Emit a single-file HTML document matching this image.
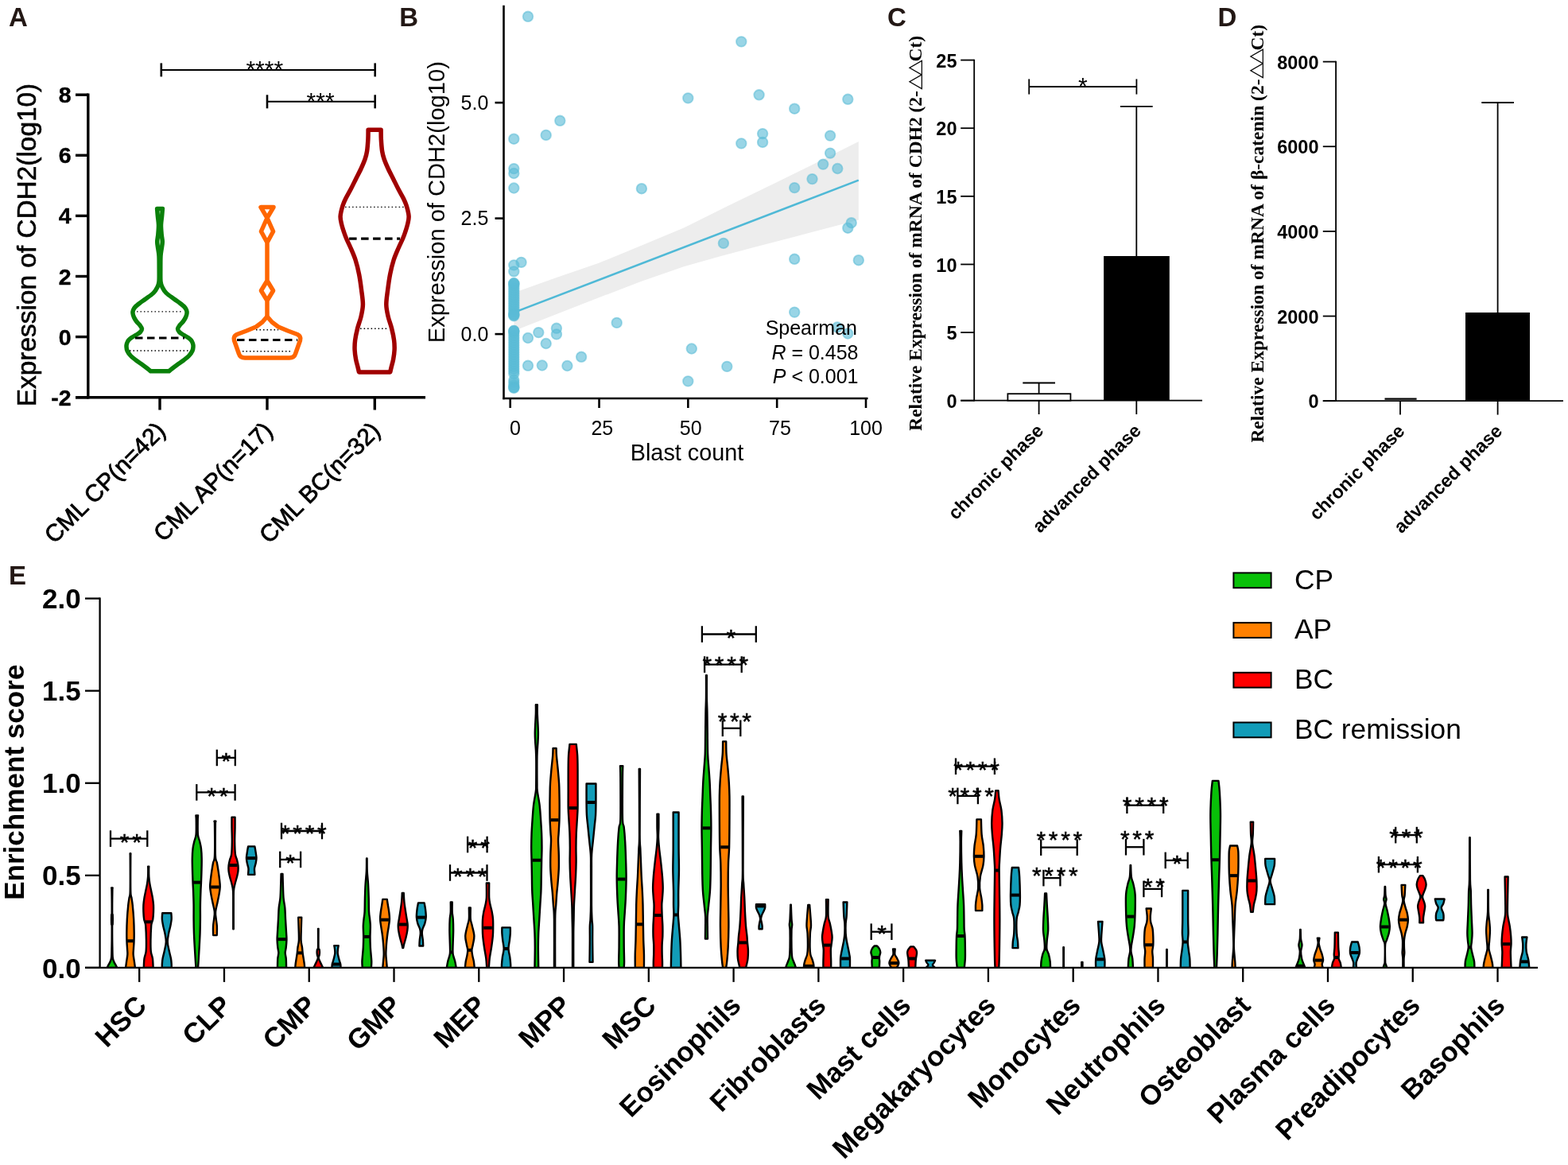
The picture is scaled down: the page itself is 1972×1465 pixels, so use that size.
<!DOCTYPE html>
<html lang="en">
<head>
<meta charset="utf-8">
<title>Figure: CDH2 expression in CML</title>
<style>
html,body{margin:0;padding:0;background:#fff;}
body{width:1972px;height:1465px;overflow:hidden;font-family:"Liberation Sans", Arial, Helvetica, sans-serif;}
svg{display:block;}
</style>
</head>
<body>
<svg width="1972" height="1465" viewBox="0 0 1972 1465">
<rect width="1972" height="1465" fill="#fff"/>
<text x="11" y="32.8" font-family='"Liberation Sans", Arial, Helvetica, sans-serif' font-size="33" font-weight="bold" text-anchor="start" fill="#231815">A</text>
<text x="502.2" y="32.8" font-family='"Liberation Sans", Arial, Helvetica, sans-serif' font-size="33" font-weight="bold" text-anchor="start" fill="#231815">B</text>
<text x="1116" y="32.8" font-family='"Liberation Sans", Arial, Helvetica, sans-serif' font-size="33" font-weight="bold" text-anchor="start" fill="#231815">C</text>
<text x="1531.5" y="32.8" font-family='"Liberation Sans", Arial, Helvetica, sans-serif' font-size="33" font-weight="bold" text-anchor="start" fill="#231815">D</text>
<text x="11" y="735" font-family='"Liberation Sans", Arial, Helvetica, sans-serif' font-size="33" font-weight="bold" text-anchor="start" fill="#231815">E</text>
<g id="panelA">
<line x1="110.8" y1="117.5" x2="110.8" y2="501.5" stroke="#000" stroke-width="3.4"/>
<line x1="95" y1="499.8" x2="535" y2="499.8" stroke="#000" stroke-width="3.4"/>
<line x1="95" y1="119.2" x2="110.8" y2="119.2" stroke="#000" stroke-width="3.4"/>
<text x="89.5" y="129.2" font-family='"Liberation Sans", Arial, Helvetica, sans-serif' font-size="28.5" font-weight="bold" text-anchor="end" fill="#000" stroke="#000" stroke-width="0.4">8</text>
<line x1="95" y1="195.3" x2="110.8" y2="195.3" stroke="#000" stroke-width="3.4"/>
<text x="89.5" y="205.3" font-family='"Liberation Sans", Arial, Helvetica, sans-serif' font-size="28.5" font-weight="bold" text-anchor="end" fill="#000" stroke="#000" stroke-width="0.4">6</text>
<line x1="95" y1="271.4" x2="110.8" y2="271.4" stroke="#000" stroke-width="3.4"/>
<text x="89.5" y="281.4" font-family='"Liberation Sans", Arial, Helvetica, sans-serif' font-size="28.5" font-weight="bold" text-anchor="end" fill="#000" stroke="#000" stroke-width="0.4">4</text>
<line x1="95" y1="347.5" x2="110.8" y2="347.5" stroke="#000" stroke-width="3.4"/>
<text x="89.5" y="357.5" font-family='"Liberation Sans", Arial, Helvetica, sans-serif' font-size="28.5" font-weight="bold" text-anchor="end" fill="#000" stroke="#000" stroke-width="0.4">2</text>
<line x1="95" y1="423.6" x2="110.8" y2="423.6" stroke="#000" stroke-width="3.4"/>
<text x="89.5" y="433.6" font-family='"Liberation Sans", Arial, Helvetica, sans-serif' font-size="28.5" font-weight="bold" text-anchor="end" fill="#000" stroke="#000" stroke-width="0.4">0</text>
<line x1="95" y1="499.7" x2="110.8" y2="499.7" stroke="#000" stroke-width="3.4"/>
<text x="89.5" y="509.7" font-family='"Liberation Sans", Arial, Helvetica, sans-serif' font-size="28.5" font-weight="bold" text-anchor="end" fill="#000" stroke="#000" stroke-width="0.4">-2</text>
<line x1="201" y1="499.8" x2="201" y2="515.5" stroke="#000" stroke-width="3.4"/>
<line x1="336" y1="499.8" x2="336" y2="515.5" stroke="#000" stroke-width="3.4"/>
<line x1="471.3" y1="499.8" x2="471.3" y2="515.5" stroke="#000" stroke-width="3.4"/>
<text x="44.6" y="308" font-family='"Liberation Sans", Arial, Helvetica, sans-serif' font-size="33.4" text-anchor="middle" fill="#000" transform="rotate(-90 44.6 308)" stroke="#000" stroke-width="0.6">Expression of CDH2(log10)</text>
<text x="209.5" y="543.5" font-family='"Liberation Sans", Arial, Helvetica, sans-serif' font-size="30" text-anchor="end" fill="#000" transform="rotate(-45 209.5 543.5)" stroke="#000" stroke-width="0.8">CML CP(n=42)</text>
<text x="344.5" y="543.5" font-family='"Liberation Sans", Arial, Helvetica, sans-serif' font-size="30" text-anchor="end" fill="#000" transform="rotate(-45 344.5 543.5)" stroke="#000" stroke-width="0.8">CML AP(n=17)</text>
<text x="479.8" y="543.5" font-family='"Liberation Sans", Arial, Helvetica, sans-serif' font-size="30" text-anchor="end" fill="#000" transform="rotate(-45 479.8 543.5)" stroke="#000" stroke-width="0.8">CML BC(n=32)</text>
<line x1="202.8" y1="87.9" x2="471.7" y2="87.9" stroke="#000" stroke-width="2"/>
<line x1="202.8" y1="79.4" x2="202.8" y2="96.4" stroke="#000" stroke-width="2.6"/>
<line x1="471.7" y1="79.4" x2="471.7" y2="96.4" stroke="#000" stroke-width="2.6"/>
<text x="332.75" y="96.7" font-family='"Liberation Sans", Arial, Helvetica, sans-serif' font-size="30" text-anchor="middle" fill="#000">****</text>
<line x1="336" y1="127.8" x2="471.7" y2="127.8" stroke="#000" stroke-width="2"/>
<line x1="336" y1="119.3" x2="336" y2="136.3" stroke="#000" stroke-width="2.6"/>
<line x1="471.7" y1="119.3" x2="471.7" y2="136.3" stroke="#000" stroke-width="2.6"/>
<text x="403.1" y="136.6" font-family='"Liberation Sans", Arial, Helvetica, sans-serif' font-size="30" text-anchor="middle" fill="#000">***</text>
<path d="M197.6,262.6C197.73,264.17 198.08,268.6 198.4,272C198.72,275.4 199.43,279.17 199.5,283C199.57,286.83 199.1,291.5 198.8,295C198.5,298.5 197.7,301 197.7,304C197.7,307 198.42,310 198.8,313C199.18,316 199.77,317.5 200,322C200.23,326.5 200.2,334.67 200.2,340C200.2,345.33 200.37,350.5 200,354C199.63,357.5 199.17,358.6 198,361C196.83,363.4 195.5,365.9 193,368.4C190.5,370.9 185.83,373.9 183,376C180.17,378.1 178.17,379.33 176,381C173.83,382.67 171.42,384.5 170,386C168.58,387.5 168,388.67 167.5,390C167,391.33 166.83,392.5 167,394C167.17,395.5 167.75,397.33 168.5,399C169.25,400.67 170.25,402.33 171.5,404C172.75,405.67 174.83,407.42 176,409C177.17,410.58 178.42,412.08 178.5,413.5C178.58,414.92 177.67,416.25 176.5,417.5C175.33,418.75 173.33,419.83 171.5,421C169.67,422.17 167.17,423.33 165.5,424.5C163.83,425.67 162.5,426.75 161.5,428C160.5,429.25 159.92,430.67 159.5,432C159.08,433.33 158.92,434.5 159,436C159.08,437.5 159.17,439.17 160,441C160.83,442.83 162.17,445 164,447C165.83,449 168.42,451 171,453C173.58,455 177.08,457.25 179.5,459C181.92,460.75 183.83,462.2 185.5,463.5C187.17,464.8 188.83,466.25 189.5,466.8L212.5,466.8C213.17,466.25 214.83,464.8 216.5,463.5C218.17,462.2 220.08,460.75 222.5,459C224.92,457.25 228.42,455 231,453C233.58,451 236.17,449 238,447C239.83,445 241.17,442.83 242,441C242.83,439.17 242.92,437.5 243,436C243.08,434.5 242.92,433.33 242.5,432C242.08,430.67 241.5,429.25 240.5,428C239.5,426.75 238.17,425.67 236.5,424.5C234.83,423.33 232.33,422.17 230.5,421C228.67,419.83 226.67,418.75 225.5,417.5C224.33,416.25 223.42,414.92 223.5,413.5C223.58,412.08 224.83,410.58 226,409C227.17,407.42 229.25,405.67 230.5,404C231.75,402.33 232.75,400.67 233.5,399C234.25,397.33 234.83,395.5 235,394C235.17,392.5 235,391.33 234.5,390C234,388.67 233.42,387.5 232,386C230.58,384.5 228.17,382.67 226,381C223.83,379.33 221.83,378.1 219,376C216.17,373.9 211.5,370.9 209,368.4C206.5,365.9 205.17,363.4 204,361C202.83,358.6 202.37,357.5 202,354C201.63,350.5 201.8,345.33 201.8,340C201.8,334.67 201.77,326.5 202,322C202.23,317.5 202.82,316 203.2,313C203.58,310 204.3,307 204.3,304C204.3,301 203.5,298.5 203.2,295C202.9,291.5 202.43,286.83 202.5,283C202.57,279.17 203.28,275.4 203.6,272C203.92,268.6 204.27,264.17 204.4,262.6Z" fill="none" stroke="#0a800a" stroke-width="5.5" stroke-linejoin="round"/>
<line x1="172" y1="391.9" x2="230" y2="391.9" stroke="#000" stroke-width="1.4" stroke-dasharray="1.5 3"/>
<line x1="170" y1="425" x2="232" y2="425" stroke="#000" stroke-width="3.2" stroke-dasharray="9.5 5.5"/>
<line x1="163" y1="441" x2="239" y2="441" stroke="#000" stroke-width="1.4" stroke-dasharray="1.5 3"/>
<path d="M328,260.6L344,260.6L336,274ZM336,274L343.6,291L336,305L328.4,291ZM336,305L336,353M336,353L343.6,365.5L336,378L328.4,365.5ZM336,378L336,398" fill="none" stroke="#ff6600" stroke-width="5.5" stroke-linejoin="round"/>
<path d="M336,398L330,405L322,411L310,416L298,420.5Q293,423 294.5,428L300.5,445Q302,450 308,450L364,450Q370,450 371.5,445L377.5,428Q379,423 374,420.5L362,416L350,411L342,405L336,398Z" fill="none" stroke="#ff6600" stroke-width="5.5" stroke-linejoin="round"/>
<line x1="322" y1="414.8" x2="350" y2="414.8" stroke="#000" stroke-width="1.4" stroke-dasharray="1.5 3"/>
<line x1="298" y1="427.5" x2="374" y2="427.5" stroke="#000" stroke-width="3.2" stroke-dasharray="9.5 5.5"/>
<line x1="305" y1="441.8" x2="367" y2="441.8" stroke="#000" stroke-width="1.4" stroke-dasharray="1.5 3"/>
<path d="M463.1,163.3C463.07,165.25 463.15,170.55 462.9,175C462.65,179.45 462.23,185.83 461.6,190C460.97,194.17 460.35,196.33 459.1,200C457.85,203.67 456.02,207.83 454.1,212C452.18,216.17 449.77,220.67 447.6,225C445.43,229.33 443.27,233.83 441.1,238C438.93,242.17 436.35,246.33 434.6,250C432.85,253.67 431.68,256.33 430.6,260C429.52,263.67 428.27,268.33 428.1,272C427.93,275.67 428.85,278.67 429.6,282C430.35,285.33 431.6,289 432.6,292C433.6,295 434.18,296.67 435.6,300C437.02,303.33 439.18,307.5 441.1,312C443.02,316.5 445.35,321.5 447.1,327C448.85,332.5 450.35,338.67 451.6,345C452.85,351.33 453.8,358.67 454.6,365C455.4,371.33 456.48,377.5 456.4,383C456.32,388.5 455.23,393 454.1,398C452.97,403 450.85,408 449.6,413C448.35,418 447.18,423.5 446.6,428C446.02,432.5 445.93,436 446.1,440C446.27,444 446.93,448.33 447.6,452C448.27,455.67 449.45,459.33 450.1,462C450.75,464.67 451.27,467 451.5,468L490.7,468C490.93,467 491.45,464.67 492.1,462C492.75,459.33 493.93,455.67 494.6,452C495.27,448.33 495.93,444 496.1,440C496.27,436 496.18,432.5 495.6,428C495.02,423.5 493.85,418 492.6,413C491.35,408 489.23,403 488.1,398C486.97,393 485.88,388.5 485.8,383C485.72,377.5 486.8,371.33 487.6,365C488.4,358.67 489.35,351.33 490.6,345C491.85,338.67 493.35,332.5 495.1,327C496.85,321.5 499.18,316.5 501.1,312C503.02,307.5 505.18,303.33 506.6,300C508.02,296.67 508.6,295 509.6,292C510.6,289 511.85,285.33 512.6,282C513.35,278.67 514.27,275.67 514.1,272C513.93,268.33 512.68,263.67 511.6,260C510.52,256.33 509.35,253.67 507.6,250C505.85,246.33 503.27,242.17 501.1,238C498.93,233.83 496.77,229.33 494.6,225C492.43,220.67 490.02,216.17 488.1,212C486.18,207.83 484.35,203.67 483.1,200C481.85,196.33 481.23,194.17 480.6,190C479.97,185.83 479.55,179.45 479.3,175C479.05,170.55 479.13,165.25 479.1,163.3Z" fill="none" stroke="#a00000" stroke-width="5.5" stroke-linejoin="round"/>
<line x1="434.1" y1="260.4" x2="508.1" y2="260.4" stroke="#000" stroke-width="1.4" stroke-dasharray="1.5 3"/>
<line x1="439.1" y1="300.2" x2="503.1" y2="300.2" stroke="#000" stroke-width="3.2" stroke-dasharray="9.5 5.5"/>
<line x1="453.1" y1="413.3" x2="489.1" y2="413.3" stroke="#000" stroke-width="1.4" stroke-dasharray="1.5 3"/>
</g>
<g id="panelB">
<path d="M646.5,363L653.7,365.4L700,349L753.1,330.8L806,309L860,286.4L913.3,260L970,232.5L1025,205.5L1079.8,178L1079.8,276.6L1040,287L998.5,298L950,310.5L905,322.5L860,335.2L806,354L753.1,374.3L700,395L653.7,413.3L646.5,416Z" fill="#ededed"/>
<line x1="646.5" y1="392.9" x2="1079.8" y2="226.6" stroke="#4fb9d6" stroke-width="2.6"/>
<g fill="#5bbcd6" fill-opacity="0.62" stroke="#5bbcd6" stroke-opacity="0.55" stroke-width="1.8">
<circle cx="664" cy="20.8" r="6.3"/>
<circle cx="704.3" cy="151.8" r="6.3"/>
<circle cx="686.7" cy="169.9" r="6.3"/>
<circle cx="646.3" cy="174.7" r="6.3"/>
<circle cx="646.3" cy="212.1" r="6.3"/>
<circle cx="646.3" cy="218" r="6.3"/>
<circle cx="646.3" cy="236.5" r="6.3"/>
<circle cx="806.9" cy="237.2" r="6.3"/>
<circle cx="932.3" cy="52.4" r="6.3"/>
<circle cx="865.3" cy="123.4" r="6.3"/>
<circle cx="954.6" cy="119.3" r="6.3"/>
<circle cx="999.2" cy="136.7" r="6.3"/>
<circle cx="1066.3" cy="124.8" r="6.3"/>
<circle cx="959.1" cy="168.1" r="6.3"/>
<circle cx="959.1" cy="178.9" r="6.3"/>
<circle cx="932.3" cy="180.4" r="6.3"/>
<circle cx="1044.1" cy="170.6" r="6.3"/>
<circle cx="1044.1" cy="192.6" r="6.3"/>
<circle cx="1035.2" cy="206.6" r="6.3"/>
<circle cx="1053.3" cy="212" r="6.3"/>
<circle cx="1021.5" cy="225.1" r="6.3"/>
<circle cx="999.2" cy="236.1" r="6.3"/>
<circle cx="655.5" cy="329.9" r="6.3"/>
<circle cx="646.3" cy="333.4" r="6.3"/>
<circle cx="646.3" cy="341.4" r="6.3"/>
<circle cx="677.3" cy="418.1" r="6.3"/>
<circle cx="664" cy="425" r="6.3"/>
<circle cx="699.9" cy="412.8" r="6.3"/>
<circle cx="699.9" cy="420.4" r="6.3"/>
<circle cx="686.7" cy="432" r="6.3"/>
<circle cx="775.7" cy="405.9" r="6.3"/>
<circle cx="731.1" cy="448.8" r="6.3"/>
<circle cx="664" cy="459.8" r="6.3"/>
<circle cx="681.8" cy="459.5" r="6.3"/>
<circle cx="713.4" cy="460" r="6.3"/>
<circle cx="1070.7" cy="280.2" r="6.3"/>
<circle cx="1066.3" cy="286.7" r="6.3"/>
<circle cx="909.9" cy="305.9" r="6.3"/>
<circle cx="999.2" cy="325.8" r="6.3"/>
<circle cx="1079.8" cy="327.2" r="6.3"/>
<circle cx="999.2" cy="392.6" r="6.3"/>
<circle cx="1053" cy="411.5" r="6.3"/>
<circle cx="1066.3" cy="419.5" r="6.3"/>
<circle cx="869.8" cy="438.5" r="6.3"/>
<circle cx="914.3" cy="460.9" r="6.3"/>
<circle cx="865.3" cy="479.4" r="6.3"/>
<circle cx="646.3" cy="356.3" r="6.3"/>
<circle cx="646.3" cy="359.3" r="6.3"/>
<circle cx="646.3" cy="362.3" r="6.3"/>
<circle cx="646.3" cy="365.3" r="6.3"/>
<circle cx="646.3" cy="368.3" r="6.3"/>
<circle cx="646.3" cy="371.3" r="6.3"/>
<circle cx="646.3" cy="374.3" r="6.3"/>
<circle cx="646.3" cy="377.3" r="6.3"/>
<circle cx="646.3" cy="380.3" r="6.3"/>
<circle cx="646.3" cy="383.3" r="6.3"/>
<circle cx="646.3" cy="386.3" r="6.3"/>
<circle cx="646.3" cy="389.3" r="6.3"/>
<circle cx="646.3" cy="392.3" r="6.3"/>
<circle cx="646.3" cy="395.3" r="6.3"/>
<circle cx="646.3" cy="356.3" r="6.3"/>
<circle cx="646.3" cy="357.5" r="6.3"/>
<circle cx="646.3" cy="396.5" r="6.3"/>
<circle cx="646.3" cy="397.3" r="6.3"/>
<circle cx="646.3" cy="395" r="6.3"/>
<circle cx="646.3" cy="416" r="6.3"/>
<circle cx="646.3" cy="419" r="6.3"/>
<circle cx="646.3" cy="422" r="6.3"/>
<circle cx="646.3" cy="425" r="6.3"/>
<circle cx="646.3" cy="428" r="6.3"/>
<circle cx="646.3" cy="431" r="6.3"/>
<circle cx="646.3" cy="434" r="6.3"/>
<circle cx="646.3" cy="437" r="6.3"/>
<circle cx="646.3" cy="440" r="6.3"/>
<circle cx="646.3" cy="443" r="6.3"/>
<circle cx="646.3" cy="446" r="6.3"/>
<circle cx="646.3" cy="449" r="6.3"/>
<circle cx="646.3" cy="452" r="6.3"/>
<circle cx="646.3" cy="455" r="6.3"/>
<circle cx="646.3" cy="458" r="6.3"/>
<circle cx="646.3" cy="461" r="6.3"/>
<circle cx="646.3" cy="464" r="6.3"/>
<circle cx="646.3" cy="467" r="6.3"/>
<circle cx="646.3" cy="470" r="6.3"/>
<circle cx="646.3" cy="416" r="6.3"/>
<circle cx="646.3" cy="416.8" r="6.3"/>
<circle cx="646.3" cy="478" r="6.3"/>
<circle cx="646.3" cy="481" r="6.3"/>
<circle cx="646.3" cy="484" r="6.3"/>
<circle cx="646.3" cy="486.5" r="6.3"/>
<circle cx="646.3" cy="487.5" r="6.3"/>
<circle cx="646.3" cy="487.8" r="6.3"/>
</g>
<line x1="633.5" y1="6.7" x2="633.5" y2="502.3" stroke="#000" stroke-width="2.6"/>
<line x1="632.2" y1="501" x2="1091.5" y2="501" stroke="#000" stroke-width="2.6"/>
<line x1="622.5" y1="420.1" x2="633.5" y2="420.1" stroke="#000" stroke-width="2.6"/>
<text x="614.3" y="428.7" font-family='"Liberation Sans", Arial, Helvetica, sans-serif' font-size="25" text-anchor="end" fill="#000">0.0</text>
<line x1="622.5" y1="274.6" x2="633.5" y2="274.6" stroke="#000" stroke-width="2.6"/>
<text x="614.3" y="283.2" font-family='"Liberation Sans", Arial, Helvetica, sans-serif' font-size="25" text-anchor="end" fill="#000">2.5</text>
<line x1="622.5" y1="129.1" x2="633.5" y2="129.1" stroke="#000" stroke-width="2.6"/>
<text x="614.3" y="137.7" font-family='"Liberation Sans", Arial, Helvetica, sans-serif' font-size="25" text-anchor="end" fill="#000">5.0</text>
<line x1="641.7" y1="501" x2="641.7" y2="513" stroke="#000" stroke-width="2.6"/>
<text x="648" y="546.5" font-family='"Liberation Sans", Arial, Helvetica, sans-serif' font-size="25" text-anchor="middle" fill="#000">0</text>
<line x1="753.53" y1="501" x2="753.53" y2="513" stroke="#000" stroke-width="2.6"/>
<text x="757.33" y="546.5" font-family='"Liberation Sans", Arial, Helvetica, sans-serif' font-size="25" text-anchor="middle" fill="#000">25</text>
<line x1="865.35" y1="501" x2="865.35" y2="513" stroke="#000" stroke-width="2.6"/>
<text x="868.75" y="546.5" font-family='"Liberation Sans", Arial, Helvetica, sans-serif' font-size="25" text-anchor="middle" fill="#000">50</text>
<line x1="977.17" y1="501" x2="977.17" y2="513" stroke="#000" stroke-width="2.6"/>
<text x="980.97" y="546.5" font-family='"Liberation Sans", Arial, Helvetica, sans-serif' font-size="25" text-anchor="middle" fill="#000">75</text>
<line x1="1089" y1="501" x2="1089" y2="513" stroke="#000" stroke-width="2.6"/>
<text x="1089" y="546.5" font-family='"Liberation Sans", Arial, Helvetica, sans-serif' font-size="25" text-anchor="middle" fill="#000">100</text>
<text x="864" y="579" font-family='"Liberation Sans", Arial, Helvetica, sans-serif' font-size="28.8" text-anchor="middle" fill="#000">Blast count</text>
<text x="559" y="254.2" font-family='"Liberation Sans", Arial, Helvetica, sans-serif' font-size="29.1" text-anchor="middle" fill="#000" transform="rotate(-90 559 254.2)">Expression of CDH2(log10)</text>
<text x="1078" y="421.3" font-family='"Liberation Sans", Arial, Helvetica, sans-serif' font-size="25" text-anchor="end" fill="#000">Spearman</text>
<text x="1079.5" y="451.5" font-family='"Liberation Sans", Arial, Helvetica, sans-serif' font-size="25" text-anchor="end"><tspan font-style="italic">R</tspan> = 0.458</text>
<text x="1079.5" y="481.7" font-family='"Liberation Sans", Arial, Helvetica, sans-serif' font-size="25" text-anchor="end"><tspan font-style="italic">P</tspan> &lt; 0.001</text>
</g>
<g id="panelC">
<line x1="1225.2" y1="74.67" x2="1225.2" y2="504.6" stroke="#000" stroke-width="1.8"/>
<line x1="1208.2" y1="503.7" x2="1512" y2="503.7" stroke="#000" stroke-width="1.8"/>
<line x1="1208.2" y1="503.7" x2="1225.2" y2="503.7" stroke="#000" stroke-width="1.8"/>
<text x="1203.5" y="512.8" font-family='"Liberation Sans", Arial, Helvetica, sans-serif' font-size="23.5" font-weight="bold" text-anchor="end" fill="#000">0</text>
<line x1="1208.2" y1="418.07" x2="1225.2" y2="418.07" stroke="#000" stroke-width="1.8"/>
<text x="1203.5" y="427.18" font-family='"Liberation Sans", Arial, Helvetica, sans-serif' font-size="23.5" font-weight="bold" text-anchor="end" fill="#000">5</text>
<line x1="1208.2" y1="332.45" x2="1225.2" y2="332.45" stroke="#000" stroke-width="1.8"/>
<text x="1203.5" y="341.55" font-family='"Liberation Sans", Arial, Helvetica, sans-serif' font-size="23.5" font-weight="bold" text-anchor="end" fill="#000">10</text>
<line x1="1208.2" y1="246.82" x2="1225.2" y2="246.82" stroke="#000" stroke-width="1.8"/>
<text x="1203.5" y="255.92" font-family='"Liberation Sans", Arial, Helvetica, sans-serif' font-size="23.5" font-weight="bold" text-anchor="end" fill="#000">15</text>
<line x1="1208.2" y1="161.2" x2="1225.2" y2="161.2" stroke="#000" stroke-width="1.8"/>
<text x="1203.5" y="170.3" font-family='"Liberation Sans", Arial, Helvetica, sans-serif' font-size="23.5" font-weight="bold" text-anchor="end" fill="#000">20</text>
<line x1="1208.2" y1="75.57" x2="1225.2" y2="75.57" stroke="#000" stroke-width="1.8"/>
<text x="1203.5" y="84.67" font-family='"Liberation Sans", Arial, Helvetica, sans-serif' font-size="23.5" font-weight="bold" text-anchor="end" fill="#000">25</text>
<rect x="1267.4" y="495.2" width="79" height="8.5" fill="#fff" stroke="#000" stroke-width="1.8"/>
<line x1="1306.6" y1="481.5" x2="1306.6" y2="495" stroke="#000" stroke-width="1.8"/>
<line x1="1286.3" y1="481.5" x2="1327" y2="481.5" stroke="#000" stroke-width="1.8"/>
<rect x="1388.1" y="322" width="82.7" height="181.7" fill="#000"/>
<line x1="1429.3" y1="133.8" x2="1429.3" y2="322" stroke="#000" stroke-width="1.8"/>
<line x1="1408.9" y1="133.8" x2="1449.7" y2="133.8" stroke="#000" stroke-width="1.8"/>
<line x1="1306.6" y1="503.7" x2="1306.6" y2="521" stroke="#000" stroke-width="1.8"/>
<line x1="1429.3" y1="503.7" x2="1429.3" y2="521" stroke="#000" stroke-width="1.8"/>
<line x1="1294.2" y1="109" x2="1429.4" y2="109" stroke="#000" stroke-width="1.8"/>
<line x1="1294.2" y1="99.4" x2="1294.2" y2="118.6" stroke="#000" stroke-width="1.8"/>
<line x1="1429.4" y1="99.4" x2="1429.4" y2="118.6" stroke="#000" stroke-width="1.8"/>
<text x="1361.8" y="117.8" font-family='"Liberation Sans", Arial, Helvetica, sans-serif' font-size="30" text-anchor="middle" fill="#000">*</text>
<text x="1313.6" y="543" font-family='"Liberation Sans", Arial, Helvetica, sans-serif' font-size="23.3" font-weight="bold" text-anchor="end" fill="#000" transform="rotate(-45 1313.6 543)">chronic phase</text>
<text x="1436.3" y="543" font-family='"Liberation Sans", Arial, Helvetica, sans-serif' font-size="23.3" font-weight="bold" text-anchor="end" fill="#000" transform="rotate(-45 1436.3 543)">advanced phase</text>
<g transform="translate(1159 541.8) rotate(-90)" font-family='"Liberation Serif", "Times New Roman", serif' font-size="23.5" font-weight="bold">
<text x="0" y="0">Relative Expression of mRNA of CDH2 (2-</text>
<text transform="translate(428.95 -2.4) scale(1 0.87)" font-family='"DejaVu Sans", sans-serif' font-weight="normal" font-size="26">△</text>
<text transform="translate(446.65 -2.4) scale(1 0.87)" font-family='"DejaVu Sans", sans-serif' font-weight="normal" font-size="26">△</text>
<text x="464.25" y="0">Ct)</text>
</g>
</g>
<g id="panelD">
<line x1="1680.1" y1="76.7" x2="1680.1" y2="505.1" stroke="#000" stroke-width="1.8"/>
<line x1="1663.8" y1="504.2" x2="1966" y2="504.2" stroke="#000" stroke-width="1.8"/>
<line x1="1663.8" y1="504.2" x2="1680.1" y2="504.2" stroke="#000" stroke-width="1.8"/>
<text x="1658.5" y="513.3" font-family='"Liberation Sans", Arial, Helvetica, sans-serif' font-size="23.5" font-weight="bold" text-anchor="end" fill="#000">0</text>
<line x1="1663.8" y1="397.55" x2="1680.1" y2="397.55" stroke="#000" stroke-width="1.8"/>
<text x="1658.5" y="406.65" font-family='"Liberation Sans", Arial, Helvetica, sans-serif' font-size="23.5" font-weight="bold" text-anchor="end" fill="#000">2000</text>
<line x1="1663.8" y1="290.9" x2="1680.1" y2="290.9" stroke="#000" stroke-width="1.8"/>
<text x="1658.5" y="300" font-family='"Liberation Sans", Arial, Helvetica, sans-serif' font-size="23.5" font-weight="bold" text-anchor="end" fill="#000">4000</text>
<line x1="1663.8" y1="184.25" x2="1680.1" y2="184.25" stroke="#000" stroke-width="1.8"/>
<text x="1658.5" y="193.35" font-family='"Liberation Sans", Arial, Helvetica, sans-serif' font-size="23.5" font-weight="bold" text-anchor="end" fill="#000">6000</text>
<line x1="1663.8" y1="77.6" x2="1680.1" y2="77.6" stroke="#000" stroke-width="1.8"/>
<text x="1658.5" y="86.7" font-family='"Liberation Sans", Arial, Helvetica, sans-serif' font-size="23.5" font-weight="bold" text-anchor="end" fill="#000">8000</text>
<line x1="1741.5" y1="501.6" x2="1781.6" y2="501.6" stroke="#000" stroke-width="2.2"/>
<rect x="1843" y="393" width="81" height="111.2" fill="#000"/>
<line x1="1883.6" y1="129" x2="1883.6" y2="393" stroke="#000" stroke-width="1.8"/>
<line x1="1863.3" y1="129" x2="1903.9" y2="129" stroke="#000" stroke-width="1.8"/>
<line x1="1761" y1="504.2" x2="1761" y2="521.6" stroke="#000" stroke-width="1.8"/>
<line x1="1883.6" y1="504.2" x2="1883.6" y2="521.6" stroke="#000" stroke-width="1.8"/>
<text x="1768" y="543.5" font-family='"Liberation Sans", Arial, Helvetica, sans-serif' font-size="23.3" font-weight="bold" text-anchor="end" fill="#000" transform="rotate(-45 1768 543.5)">chronic phase</text>
<text x="1890.6" y="543.5" font-family='"Liberation Sans", Arial, Helvetica, sans-serif' font-size="23.3" font-weight="bold" text-anchor="end" fill="#000" transform="rotate(-45 1890.6 543.5)">advanced phase</text>
<g transform="translate(1588.6 556.6) rotate(-90)" font-family='"Liberation Serif", "Times New Roman", serif' font-size="23.5" font-weight="bold">
<text x="0" y="0">Relative Expression of mRNA of β-catenin (2-</text>
<text transform="translate(457.8 -2.4) scale(1 0.87)" font-family='"DejaVu Sans", sans-serif' font-weight="normal" font-size="26">△</text>
<text transform="translate(475.5 -2.4) scale(1 0.87)" font-family='"DejaVu Sans", sans-serif' font-weight="normal" font-size="26">△</text>
<text x="493.1" y="0">Ct)</text>
</g>
</g>
<g id="panelE">
<path d="M140.15,1116.37C140.21,1117.02 140.41,1114.9 140.5,1120.28C140.59,1125.66 140.74,1143.64 140.68,1148.66C140.62,1153.69 140.24,1148.22 140.15,1150.44C140.06,1152.66 140.06,1159.75 140.15,1161.97C140.24,1164.19 140.59,1160.64 140.68,1163.75C140.77,1166.85 140.71,1176.02 140.68,1180.6C140.65,1185.18 140.59,1187.4 140.5,1191.25C140.41,1195.09 140.44,1200.71 140.15,1203.66C139.85,1206.62 139.35,1207.36 138.73,1208.99C138.11,1210.61 137.1,1212.1 136.42,1213.42C135.74,1214.74 134.94,1216.32 134.65,1216.9L147.22,1216.9C146.93,1216.32 146.13,1214.74 145.45,1213.42C144.77,1212.1 143.76,1210.61 143.14,1208.99C142.52,1207.36 142.02,1206.62 141.72,1203.66C141.43,1200.71 141.46,1195.09 141.37,1191.25C141.28,1187.4 141.22,1185.18 141.19,1180.6C141.16,1176.02 141.1,1166.85 141.19,1163.75C141.28,1160.64 141.63,1164.19 141.72,1161.97C141.81,1159.75 141.81,1152.66 141.72,1150.44C141.63,1148.22 141.25,1153.69 141.19,1148.66C141.13,1143.64 141.28,1125.66 141.37,1120.28C141.46,1114.9 141.66,1117.02 141.72,1116.37Z" fill="#08c008" stroke="#000" stroke-width="2.4" stroke-linejoin="round"/>
<path d="M163.57,1074.15C163.6,1074.74 163.72,1070.01 163.75,1077.7C163.78,1085.38 163.95,1111.7 163.75,1120.28C163.54,1128.85 162.92,1126.19 162.5,1129.15C162.09,1132.11 161.7,1133.58 161.26,1138.02C160.82,1142.45 160.17,1149.85 159.84,1155.76C159.52,1161.68 159.37,1168.77 159.31,1173.5C159.25,1178.23 159.37,1180.9 159.49,1184.15C159.61,1187.4 159.87,1190.36 160.02,1193.02C160.17,1195.68 160.52,1197.45 160.37,1200.12C160.23,1202.78 159.52,1206.19 159.13,1208.99C158.75,1211.78 158.25,1215.58 158.07,1216.9L169.93,1216.9C169.75,1215.58 169.25,1211.78 168.87,1208.99C168.48,1206.19 167.77,1202.78 167.63,1200.12C167.48,1197.45 167.83,1195.68 167.98,1193.02C168.13,1190.36 168.39,1187.4 168.51,1184.15C168.63,1180.9 168.75,1178.23 168.69,1173.5C168.63,1168.77 168.48,1161.68 168.16,1155.76C167.83,1149.85 167.18,1142.45 166.74,1138.02C166.3,1133.58 165.91,1132.11 165.5,1129.15C165.08,1126.19 164.46,1128.85 164.25,1120.28C164.05,1111.7 164.22,1085.38 164.25,1077.7C164.28,1070.01 164.4,1074.74 164.43,1074.15Z" fill="#ff8000" stroke="#000" stroke-width="2.4" stroke-linejoin="round"/>
<line x1="160.1" y1="1183.26" x2="167.9" y2="1183.26" stroke="#000" stroke-width="4"/>
<path d="M186.1,1089.58C186.13,1090.12 186.28,1090.62 186.28,1092.78C186.28,1094.94 186.31,1099.43 186.1,1102.54C185.89,1105.64 185.51,1108.45 185.04,1111.41C184.56,1114.36 183.85,1117.32 183.26,1120.28C182.67,1123.23 181.96,1126.19 181.49,1129.15C181.01,1132.11 180.6,1135.06 180.42,1138.02C180.25,1140.98 180.3,1143.93 180.42,1146.89C180.54,1149.85 180.81,1153.54 181.13,1155.76C181.46,1157.98 182.02,1158.72 182.37,1160.2C182.73,1161.68 183,1160.94 183.26,1164.63C183.53,1168.33 183.91,1177.05 183.97,1182.37C184.03,1187.7 184.03,1192.72 183.62,1196.57C183.2,1200.41 181.96,1202.05 181.49,1205.44C181.01,1208.83 180.9,1214.99 180.78,1216.9L192.64,1216.9C192.52,1214.99 192.41,1208.83 191.93,1205.44C191.46,1202.05 190.22,1200.41 189.8,1196.57C189.39,1192.72 189.39,1187.7 189.45,1182.37C189.51,1177.05 189.89,1168.33 190.16,1164.63C190.42,1160.94 190.69,1161.68 191.05,1160.2C191.4,1158.72 191.96,1157.98 192.29,1155.76C192.61,1153.54 192.88,1149.85 193,1146.89C193.12,1143.93 193.17,1140.98 193,1138.02C192.82,1135.06 192.41,1132.11 191.93,1129.15C191.46,1126.19 190.75,1123.23 190.16,1120.28C189.57,1117.32 188.86,1114.36 188.38,1111.41C187.91,1108.45 187.53,1105.64 187.32,1102.54C187.11,1099.43 187.14,1094.94 187.14,1092.78C187.14,1090.62 187.29,1090.12 187.32,1089.58Z" fill="#ff0000" stroke="#000" stroke-width="2.4" stroke-linejoin="round"/>
<line x1="182.45" y1="1159.31" x2="190.97" y2="1159.31" stroke="#000" stroke-width="4"/>
<path d="M204.2,1148.31C204.14,1149.55 203.66,1153.04 203.84,1155.76C204.02,1158.48 204.67,1161.68 205.26,1164.63C205.85,1167.59 206.8,1170.25 207.39,1173.5C207.98,1176.76 208.87,1180.6 208.81,1184.15C208.75,1187.7 207.75,1191.25 207.04,1194.79C206.33,1198.34 205.08,1202.48 204.55,1205.44C204.02,1208.4 203.96,1210.63 203.84,1212.54C203.72,1214.45 203.84,1216.17 203.84,1216.9L215.71,1216.9C215.71,1216.17 215.82,1214.45 215.71,1212.54C215.59,1210.63 215.53,1208.4 215,1205.44C214.46,1202.48 213.22,1198.34 212.51,1194.79C211.8,1191.25 210.8,1187.7 210.74,1184.15C210.68,1180.6 211.57,1176.76 212.16,1173.5C212.75,1170.25 213.7,1167.59 214.29,1164.63C214.88,1161.68 215.53,1158.48 215.71,1155.76C215.88,1153.04 215.41,1149.55 215.35,1148.31Z" fill="#129cb8" stroke="#000" stroke-width="2.4" stroke-linejoin="round"/>
<line x1="208.35" y1="1184.15" x2="211.19" y2="1184.15" stroke="#000" stroke-width="4"/>
<path d="M246.42,1025.36C246.48,1026.39 246.75,1027.58 246.78,1031.57C246.81,1035.56 247.01,1044.87 246.6,1049.31C246.19,1053.75 244.97,1055.22 244.29,1058.18C243.61,1061.14 242.93,1063.5 242.52,1067.05C242.11,1070.6 241.9,1075.04 241.81,1079.47C241.72,1083.91 241.87,1088.64 241.99,1093.66C242.11,1098.69 242.34,1105.2 242.52,1109.63C242.7,1114.07 242.87,1115.55 243.05,1120.28C243.23,1125.01 243.5,1132.11 243.58,1138.02C243.67,1143.93 243.52,1149.85 243.58,1155.76C243.64,1161.68 243.73,1167.59 243.94,1173.5C244.15,1179.42 244.5,1185.33 244.83,1191.25C245.15,1197.16 245.62,1204.71 245.89,1208.99C246.16,1213.26 246.33,1215.58 246.42,1216.9L249.06,1216.9C249.15,1215.58 249.33,1213.26 249.59,1208.99C249.86,1204.71 250.33,1197.16 250.66,1191.25C250.98,1185.33 251.34,1179.42 251.55,1173.5C251.75,1167.59 251.84,1161.68 251.9,1155.76C251.96,1149.85 251.81,1143.93 251.9,1138.02C251.99,1132.11 252.25,1125.01 252.43,1120.28C252.61,1115.55 252.79,1114.07 252.96,1109.63C253.14,1105.2 253.38,1098.69 253.5,1093.66C253.62,1088.64 253.76,1083.91 253.67,1079.47C253.59,1075.04 253.38,1070.6 252.96,1067.05C252.55,1063.5 251.87,1061.14 251.19,1058.18C250.51,1055.22 249.3,1053.75 248.88,1049.31C248.47,1044.87 248.68,1035.56 248.71,1031.57C248.74,1027.58 249,1026.39 249.06,1025.36Z" fill="#08c008" stroke="#000" stroke-width="2.4" stroke-linejoin="round"/>
<line x1="242.77" y1="1109.63" x2="252.71" y2="1109.63" stroke="#000" stroke-width="4"/>
<path d="M269.49,1032.99C269.58,1033.64 269.93,1029.73 270.02,1036.89C270.11,1044.05 270.34,1067.94 270.02,1075.92C269.69,1083.91 268.69,1081.54 268.07,1084.79C267.45,1088.05 266.83,1091.89 266.29,1095.44C265.76,1098.99 265.23,1102.83 264.87,1106.08C264.52,1109.34 264.11,1112 264.16,1114.95C264.22,1117.91 264.7,1120.57 265.23,1123.83C265.76,1127.08 266.59,1130.63 267.36,1134.47C268.13,1138.32 269.55,1143.34 269.84,1146.89C270.14,1150.44 269.43,1152.8 269.13,1155.76C268.84,1158.72 268.25,1161.68 268.07,1164.63C267.89,1167.59 268.04,1171.58 268.07,1173.5C268.1,1175.43 268.22,1175.72 268.25,1176.16L272.66,1176.16C272.69,1175.72 272.81,1175.43 272.84,1173.5C272.87,1171.58 273.01,1167.59 272.84,1164.63C272.66,1161.68 272.07,1158.72 271.77,1155.76C271.48,1152.8 270.77,1150.44 271.06,1146.89C271.36,1143.34 272.78,1138.32 273.55,1134.47C274.31,1130.63 275.14,1127.08 275.67,1123.83C276.21,1120.57 276.68,1117.91 276.74,1114.95C276.8,1112 276.38,1109.34 276.03,1106.08C275.67,1102.83 275.14,1098.99 274.61,1095.44C274.08,1091.89 273.46,1088.05 272.84,1084.79C272.21,1081.54 271.21,1083.91 270.88,1075.92C270.56,1067.94 270.8,1044.05 270.88,1036.89C270.97,1029.73 271.33,1033.64 271.42,1032.99Z" fill="#ff8000" stroke="#000" stroke-width="2.4" stroke-linejoin="round"/>
<line x1="265.13" y1="1115.49" x2="275.77" y2="1115.49" stroke="#000" stroke-width="4"/>
<path d="M291.49,1027.66C291.49,1029.79 291.43,1035.35 291.49,1040.44C291.55,1045.52 291.9,1052.56 291.84,1058.18C291.78,1063.8 291.61,1070.3 291.13,1074.15C290.66,1077.99 289.59,1078.88 289,1081.25C288.41,1083.61 287.82,1085.98 287.58,1088.34C287.35,1090.71 287.35,1093.07 287.58,1095.44C287.82,1097.8 288.35,1099.87 289,1102.54C289.65,1105.2 290.81,1108.45 291.49,1111.41C292.17,1114.36 292.79,1115.84 293.08,1120.28C293.38,1124.71 293.23,1130.04 293.26,1138.02C293.29,1146 293.26,1163.15 293.26,1168.18L293.77,1168.18C293.77,1163.15 293.74,1146 293.77,1138.02C293.8,1130.04 293.65,1124.71 293.95,1120.28C294.24,1115.84 294.87,1114.36 295.55,1111.41C296.23,1108.45 297.38,1105.2 298.03,1102.54C298.68,1099.87 299.21,1097.8 299.45,1095.44C299.68,1093.07 299.68,1090.71 299.45,1088.34C299.21,1085.98 298.62,1083.61 298.03,1081.25C297.44,1078.88 296.37,1077.99 295.9,1074.15C295.43,1070.3 295.25,1063.8 295.19,1058.18C295.13,1052.56 295.49,1045.52 295.55,1040.44C295.6,1035.35 295.55,1029.79 295.55,1027.66Z" fill="#ff0000" stroke="#000" stroke-width="2.4" stroke-linejoin="round"/>
<line x1="288.55" y1="1087.99" x2="298.48" y2="1087.99" stroke="#000" stroke-width="4"/>
<path d="M312.07,1064.39C311.89,1065.43 311.36,1068.23 311,1070.6C310.65,1072.97 310,1076.22 309.94,1078.58C309.88,1080.95 310.23,1082.58 310.65,1084.79C311.06,1087.01 312.16,1089.82 312.42,1091.89C312.69,1093.96 312.3,1095.88 312.25,1097.21C312.19,1098.54 312.1,1099.43 312.07,1099.87L320.38,1099.87C320.35,1099.43 320.27,1098.54 320.21,1097.21C320.15,1095.88 319.76,1093.96 320.03,1091.89C320.3,1089.82 321.39,1087.01 321.8,1084.79C322.22,1082.58 322.57,1080.95 322.51,1078.58C322.45,1076.22 321.8,1072.97 321.45,1070.6C321.09,1068.23 320.56,1065.43 320.38,1064.39Z" fill="#129cb8" stroke="#000" stroke-width="2.4" stroke-linejoin="round"/>
<line x1="310.9" y1="1079.12" x2="321.55" y2="1079.12" stroke="#000" stroke-width="4"/>
<path d="M353.55,1098.99C353.49,1101.06 353.37,1106.38 353.2,1111.41C353.02,1116.43 352.9,1124.12 352.49,1129.15C352.07,1134.18 351.13,1137.13 350.71,1141.57C350.3,1146 350.3,1150.44 350,1155.76C349.71,1161.08 349.18,1169.22 348.94,1173.5C348.7,1177.79 348.52,1178.53 348.58,1181.49C348.64,1184.44 349,1188.44 349.29,1191.25C349.59,1194.05 350.36,1195.98 350.36,1198.34C350.36,1200.71 349.53,1202.35 349.29,1205.44C349.06,1208.53 349,1214.99 348.94,1216.9L360.09,1216.9C360.03,1214.99 359.98,1208.53 359.74,1205.44C359.5,1202.35 358.67,1200.71 358.67,1198.34C358.67,1195.98 359.44,1194.05 359.74,1191.25C360.03,1188.44 360.39,1184.44 360.45,1181.49C360.51,1178.53 360.33,1177.79 360.09,1173.5C359.86,1169.22 359.32,1161.08 359.03,1155.76C358.73,1150.44 358.73,1146 358.32,1141.57C357.91,1137.13 356.96,1134.18 356.55,1129.15C356.13,1124.12 356.01,1116.43 355.84,1111.41C355.66,1106.38 355.54,1101.06 355.48,1098.99Z" fill="#08c008" stroke="#000" stroke-width="2.4" stroke-linejoin="round"/>
<line x1="349.19" y1="1181.13" x2="359.84" y2="1181.13" stroke="#000" stroke-width="4"/>
<path d="M375.2,1153.63C375.26,1155.47 375.43,1159.84 375.55,1164.63C375.67,1169.42 376.08,1177.94 375.91,1182.37C375.73,1186.81 374.84,1188.58 374.49,1191.25C374.13,1193.91 374.07,1195.98 373.78,1198.34C373.48,1200.71 373.07,1203.07 372.71,1205.44C372.36,1207.8 371.88,1210.63 371.65,1212.54C371.41,1214.45 371.35,1216.17 371.29,1216.9L383.16,1216.9C383.1,1216.17 383.04,1214.45 382.8,1212.54C382.57,1210.63 382.09,1207.8 381.74,1205.44C381.38,1203.07 380.97,1200.71 380.67,1198.34C380.38,1195.98 380.32,1193.91 379.96,1191.25C379.61,1188.58 378.72,1186.81 378.55,1182.37C378.37,1177.94 378.78,1169.42 378.9,1164.63C379.02,1159.84 379.2,1155.47 379.25,1153.63Z" fill="#ff8000" stroke="#000" stroke-width="2.4" stroke-linejoin="round"/>
<line x1="374.39" y1="1198.34" x2="380.06" y2="1198.34" stroke="#000" stroke-width="4"/>
<path d="M400.04,1167.83C400.04,1171.73 400.21,1186.9 400.04,1191.25C399.86,1195.59 399.21,1192.87 398.97,1193.91C398.73,1194.94 398.62,1196.27 398.62,1197.45C398.62,1198.64 398.76,1199.82 398.97,1201C399.18,1202.19 399.98,1203.22 399.86,1204.55C399.74,1205.88 398.88,1207.51 398.26,1208.99C397.64,1210.47 396.78,1212.1 396.13,1213.42C395.48,1214.74 394.65,1216.32 394.36,1216.9L406.22,1216.9C405.93,1216.32 405.1,1214.74 404.45,1213.42C403.8,1212.1 402.94,1210.47 402.32,1208.99C401.7,1207.51 400.84,1205.88 400.72,1204.55C400.6,1203.22 401.4,1202.19 401.61,1201C401.82,1199.82 401.96,1198.64 401.96,1197.45C401.96,1196.27 401.85,1194.94 401.61,1193.91C401.37,1192.87 400.72,1195.59 400.55,1191.25C400.37,1186.9 400.55,1171.73 400.55,1167.83Z" fill="#ff0000" stroke="#000" stroke-width="2.4" stroke-linejoin="round"/>
<path d="M420.26,1189.12C420.38,1189.77 420.79,1191.48 420.97,1193.02C421.15,1194.56 421.44,1196.57 421.33,1198.34C421.21,1200.12 420.68,1201.89 420.26,1203.66C419.85,1205.44 419.26,1207.51 418.84,1208.99C418.43,1210.47 418.01,1211.22 417.78,1212.54C417.54,1213.85 417.48,1216.17 417.42,1216.9L428.58,1216.9C428.52,1216.17 428.46,1213.85 428.22,1212.54C427.99,1211.22 427.57,1210.47 427.16,1208.99C426.74,1207.51 426.15,1205.44 425.74,1203.66C425.32,1201.89 424.79,1200.12 424.67,1198.34C424.56,1196.57 424.85,1194.56 425.03,1193.02C425.21,1191.48 425.62,1189.77 425.74,1189.12Z" fill="#129cb8" stroke="#000" stroke-width="2.4" stroke-linejoin="round"/>
<line x1="418.39" y1="1212.54" x2="427.61" y2="1212.54" stroke="#000" stroke-width="4"/>
<path d="M461.07,1079.47C461.04,1082.13 461.13,1090.12 460.89,1095.44C460.65,1100.76 459.97,1105.79 459.65,1111.41C459.32,1117.02 459.12,1123.23 458.94,1129.15C458.76,1135.06 458.82,1142.45 458.58,1146.89C458.35,1151.33 457.82,1152.8 457.52,1155.76C457.22,1158.72 456.87,1160.94 456.81,1164.63C456.75,1168.33 457.16,1173.5 457.16,1177.94C457.16,1182.37 456.99,1187.55 456.81,1191.25C456.63,1194.94 456.34,1197.16 456.1,1200.12C455.86,1203.07 455.45,1206.19 455.39,1208.99C455.33,1211.78 455.69,1215.58 455.75,1216.9L466.9,1216.9C466.96,1215.58 467.31,1211.78 467.25,1208.99C467.2,1206.19 466.78,1203.07 466.55,1200.12C466.31,1197.16 466.01,1194.94 465.84,1191.25C465.66,1187.55 465.48,1182.37 465.48,1177.94C465.48,1173.5 465.89,1168.33 465.84,1164.63C465.78,1160.94 465.42,1158.72 465.13,1155.76C464.83,1152.8 464.3,1151.33 464.06,1146.89C463.82,1142.45 463.88,1135.06 463.71,1129.15C463.53,1123.23 463.32,1117.02 463,1111.41C462.67,1105.79 461.99,1100.76 461.75,1095.44C461.52,1090.12 461.61,1082.13 461.58,1079.47Z" fill="#08c008" stroke="#000" stroke-width="2.4" stroke-linejoin="round"/>
<line x1="457.77" y1="1177.94" x2="464.87" y2="1177.94" stroke="#000" stroke-width="4"/>
<path d="M481.29,1130.92C481.12,1132.11 480.64,1135.36 480.23,1138.02C479.82,1140.68 479.16,1143.93 478.81,1146.89C478.45,1149.85 478.04,1152.8 478.1,1155.76C478.16,1158.72 478.75,1161.68 479.16,1164.63C479.58,1167.59 480.17,1170.55 480.58,1173.5C481,1176.46 481.35,1179.42 481.65,1182.37C481.94,1185.33 482.18,1188.29 482.36,1191.25C482.54,1194.2 482.77,1197.16 482.71,1200.12C482.65,1203.07 482.24,1206.19 482,1208.99C481.77,1211.78 481.41,1215.58 481.29,1216.9L486.77,1216.9C486.65,1215.58 486.3,1211.78 486.06,1208.99C485.82,1206.19 485.41,1203.07 485.35,1200.12C485.29,1197.16 485.53,1194.2 485.71,1191.25C485.88,1188.29 486.12,1185.33 486.42,1182.37C486.71,1179.42 487.07,1176.46 487.48,1173.5C487.89,1170.55 488.49,1167.59 488.9,1164.63C489.31,1161.68 489.91,1158.72 489.96,1155.76C490.02,1152.8 489.61,1149.85 489.25,1146.89C488.9,1143.93 488.25,1140.68 487.84,1138.02C487.42,1135.36 486.95,1132.11 486.77,1130.92Z" fill="#ff8000" stroke="#000" stroke-width="2.4" stroke-linejoin="round"/>
<line x1="478.71" y1="1156.65" x2="489.35" y2="1156.65" stroke="#000" stroke-width="4"/>
<path d="M505.78,1122.94C505.66,1124.86 505.48,1130.48 505.07,1134.47C504.65,1138.46 503.83,1143.34 503.29,1146.89C502.76,1150.44 502.29,1153.1 501.87,1155.76C501.46,1158.42 500.93,1160.49 500.81,1162.86C500.69,1165.22 500.81,1167.29 501.16,1169.95C501.52,1172.62 502.23,1175.87 502.94,1178.83C503.65,1181.78 504.86,1185.48 505.42,1187.7C505.98,1189.91 506.16,1191.39 506.31,1192.13L507.17,1192.13C507.32,1191.39 507.5,1189.91 508.06,1187.7C508.62,1185.48 509.84,1181.78 510.55,1178.83C511.25,1175.87 511.96,1172.62 512.32,1169.95C512.67,1167.29 512.79,1165.22 512.67,1162.86C512.56,1160.49 512.02,1158.42 511.61,1155.76C511.2,1153.1 510.72,1150.44 510.19,1146.89C509.66,1143.34 508.83,1138.46 508.42,1134.47C508,1130.48 507.82,1124.86 507.71,1122.94Z" fill="#ff0000" stroke="#000" stroke-width="2.4" stroke-linejoin="round"/>
<line x1="501.42" y1="1162.5" x2="512.06" y2="1162.5" stroke="#000" stroke-width="4"/>
<path d="M526,1135.36C525.77,1136.69 524.94,1140.38 524.58,1143.34C524.23,1146.3 523.76,1150.14 523.87,1153.1C523.99,1156.06 524.58,1158.57 525.29,1161.08C526,1163.6 527.54,1166.11 528.13,1168.18C528.72,1170.25 528.9,1171.14 528.84,1173.5C528.78,1175.87 528.01,1179.71 527.78,1182.37C527.54,1185.04 527.48,1188.29 527.42,1189.47L532.19,1189.47C532.13,1188.29 532.07,1185.04 531.84,1182.37C531.6,1179.71 530.83,1175.87 530.77,1173.5C530.71,1171.14 530.89,1170.25 531.48,1168.18C532.07,1166.11 533.61,1163.6 534.32,1161.08C535.03,1158.57 535.62,1156.06 535.74,1153.1C535.86,1150.14 535.38,1146.3 535.03,1143.34C534.67,1140.38 533.85,1136.69 533.61,1135.36Z" fill="#129cb8" stroke="#000" stroke-width="2.4" stroke-linejoin="round"/>
<line x1="524.48" y1="1153.63" x2="535.13" y2="1153.63" stroke="#000" stroke-width="4"/>
<path d="M566.78,1134.47C566.78,1136.54 566.95,1143.34 566.78,1146.89C566.6,1150.44 565.95,1151.92 565.71,1155.76C565.48,1159.61 565.36,1165.52 565.36,1169.95C565.36,1174.39 565.59,1177.94 565.71,1182.37C565.83,1186.81 566.13,1193.32 566.07,1196.57C566.01,1199.82 565.83,1199.82 565.36,1201.89C564.88,1203.96 563.82,1206.49 563.23,1208.99C562.64,1211.49 562.05,1215.58 561.81,1216.9L573.67,1216.9C573.44,1215.58 572.85,1211.49 572.25,1208.99C571.66,1206.49 570.6,1203.96 570.13,1201.89C569.65,1199.82 569.48,1199.82 569.42,1196.57C569.36,1193.32 569.65,1186.81 569.77,1182.37C569.89,1177.94 570.13,1174.39 570.13,1169.95C570.13,1165.52 570.01,1159.61 569.77,1155.76C569.53,1151.92 568.88,1150.44 568.71,1146.89C568.53,1143.34 568.71,1136.54 568.71,1134.47Z" fill="#08c008" stroke="#000" stroke-width="2.4" stroke-linejoin="round"/>
<line x1="566.32" y1="1197.45" x2="569.16" y2="1197.45" stroke="#000" stroke-width="4"/>
<path d="M589.84,1141.57C589.84,1143.93 590.2,1151.92 589.84,1155.76C589.49,1159.61 588.48,1161.08 587.71,1164.63C586.94,1168.18 585.38,1173.21 585.23,1177.05C585.08,1180.9 586.32,1184.74 586.83,1187.7C587.33,1190.65 588.16,1192.43 588.25,1194.79C588.33,1197.16 587.77,1199.52 587.36,1201.89C586.94,1204.26 586.18,1206.49 585.76,1208.99C585.35,1211.49 585.02,1215.58 584.87,1216.9L596.74,1216.9C596.59,1215.58 596.27,1211.49 595.85,1208.99C595.44,1206.49 594.67,1204.26 594.25,1201.89C593.84,1199.52 593.28,1197.16 593.37,1194.79C593.46,1192.43 594.28,1190.65 594.79,1187.7C595.29,1184.74 596.53,1180.9 596.38,1177.05C596.24,1173.21 594.67,1168.18 593.9,1164.63C593.13,1161.08 592.13,1159.61 591.77,1155.76C591.42,1151.92 591.77,1143.93 591.77,1141.57Z" fill="#ff8000" stroke="#000" stroke-width="2.4" stroke-linejoin="round"/>
<line x1="588.5" y1="1194.79" x2="593.11" y2="1194.79" stroke="#000" stroke-width="4"/>
<path d="M611.84,1110.52C611.84,1113.62 612.08,1124.57 611.84,1129.15C611.61,1133.73 611.01,1135.06 610.42,1138.02C609.83,1140.98 608.86,1143.93 608.29,1146.89C607.73,1149.85 607.29,1152.51 607.05,1155.76C606.82,1159.01 606.84,1162.86 606.87,1166.41C606.9,1169.95 606.87,1172.91 607.23,1177.05C607.58,1181.19 608.32,1186.51 609,1191.25C609.68,1195.98 610.78,1201.16 611.31,1205.44C611.84,1209.71 612.05,1214.99 612.2,1216.9L614.84,1216.9C614.98,1214.99 615.19,1209.71 615.72,1205.44C616.25,1201.16 617.35,1195.98 618.03,1191.25C618.71,1186.51 619.45,1181.19 619.8,1177.05C620.16,1172.91 620.13,1169.95 620.16,1166.41C620.19,1162.86 620.22,1159.01 619.98,1155.76C619.74,1152.51 619.3,1149.85 618.74,1146.89C618.18,1143.93 617.2,1140.98 616.61,1138.02C616.02,1135.06 615.43,1133.73 615.19,1129.15C614.95,1124.57 615.19,1113.62 615.19,1110.52Z" fill="#ff0000" stroke="#000" stroke-width="2.4" stroke-linejoin="round"/>
<line x1="608.19" y1="1166.76" x2="618.84" y2="1166.76" stroke="#000" stroke-width="4"/>
<path d="M631.36,1166.41C631.36,1167.59 631.21,1170.84 631.36,1173.5C631.51,1176.16 631.86,1179.12 632.25,1182.37C632.63,1185.63 633.72,1189.47 633.66,1193.02C633.61,1196.57 632.33,1200.41 631.89,1203.66C631.45,1206.92 631.15,1210.33 631,1212.54C630.86,1214.74 631,1216.17 631,1216.9L642.16,1216.9C642.16,1216.17 642.31,1214.74 642.16,1212.54C642.01,1210.33 641.71,1206.92 641.27,1203.66C640.83,1200.41 639.56,1196.57 639.5,1193.02C639.44,1189.47 640.53,1185.63 640.92,1182.37C641.3,1179.12 641.66,1176.16 641.8,1173.5C641.95,1170.84 641.8,1167.59 641.8,1166.41Z" fill="#129cb8" stroke="#000" stroke-width="2.4" stroke-linejoin="round"/>
<line x1="633.92" y1="1193.02" x2="639.24" y2="1193.02" stroke="#000" stroke-width="4"/>
<path d="M673.87,886.21C673.87,888.05 674.05,891.54 673.87,897.21C673.7,902.89 672.93,914.36 672.81,920.28C672.69,926.19 672.93,927.67 673.16,932.7C673.4,937.72 674.05,941.57 674.23,950.44C674.41,959.31 674.29,978.53 674.23,985.92C674.17,993.32 674.41,990.36 673.87,994.79C673.34,999.23 671.75,1006.62 671.04,1012.54C670.33,1018.45 670.03,1024.36 669.62,1030.28C669.2,1036.19 668.79,1042.11 668.55,1048.02C668.32,1053.93 668.2,1060.14 668.2,1065.76C668.2,1071.38 668.43,1075.82 668.55,1081.73C668.67,1087.64 668.79,1094.83 668.91,1101.25C669.02,1107.66 669.02,1114.11 669.26,1120.23C669.5,1126.35 669.97,1132.06 670.33,1137.97C670.68,1143.88 671.04,1149.8 671.39,1155.71C671.75,1161.63 672.22,1167.54 672.45,1173.45C672.69,1179.37 672.81,1183.96 672.81,1191.2C672.81,1198.44 672.51,1212.62 672.45,1216.9L677.22,1216.9C677.16,1212.62 676.87,1198.44 676.87,1191.2C676.87,1183.96 676.99,1179.37 677.22,1173.45C677.46,1167.54 677.93,1161.63 678.29,1155.71C678.64,1149.8 679,1143.88 679.35,1137.97C679.71,1132.06 680.18,1126.35 680.42,1120.23C680.65,1114.11 680.65,1107.66 680.77,1101.25C680.89,1094.83 681.01,1087.64 681.13,1081.73C681.24,1075.82 681.48,1071.38 681.48,1065.76C681.48,1060.14 681.36,1053.93 681.13,1048.02C680.89,1042.11 680.48,1036.19 680.06,1030.28C679.65,1024.36 679.35,1018.45 678.64,1012.54C677.93,1006.62 676.34,999.23 675.8,994.79C675.27,990.36 675.51,993.32 675.45,985.92C675.39,978.53 675.27,959.31 675.45,950.44C675.63,941.57 676.28,937.72 676.51,932.7C676.75,927.67 676.99,926.19 676.87,920.28C676.75,914.36 675.98,902.89 675.8,897.21C675.63,891.54 675.8,888.05 675.8,886.21Z" fill="#08c008" stroke="#000" stroke-width="2.4" stroke-linejoin="round"/>
<line x1="669.52" y1="1081.73" x2="680.16" y2="1081.73" stroke="#000" stroke-width="4"/>
<path d="M695.52,941.04C695.46,942.6 695.52,945.91 695.16,950.44C694.81,954.96 693.92,962.27 693.39,968.18C692.86,974.09 692.27,980.9 691.97,985.92C691.68,990.95 691.7,993.91 691.62,998.34C691.53,1002.78 691.44,1007.07 691.44,1012.54C691.44,1018.01 691.44,1025.25 691.62,1031.16C691.79,1037.08 692.27,1043.73 692.5,1048.02C692.74,1052.31 693.07,1052.45 693.04,1056.89C693.01,1061.33 692.44,1068.72 692.33,1074.63C692.21,1080.55 692.12,1086.46 692.33,1092.37C692.53,1098.29 693.15,1105.09 693.57,1110.12C693.98,1115.14 694.43,1117.89 694.81,1122.54C695.19,1127.18 695.52,1132.44 695.87,1137.97C696.23,1143.5 696.76,1142.56 696.94,1155.71C697.12,1168.87 696.94,1206.7 696.94,1216.9L698.16,1216.9C698.16,1206.7 697.98,1168.87 698.16,1155.71C698.34,1142.56 698.87,1143.5 699.22,1137.97C699.58,1132.44 699.9,1127.18 700.29,1122.54C700.67,1117.89 701.12,1115.14 701.53,1110.12C701.94,1105.09 702.56,1098.29 702.77,1092.37C702.98,1086.46 702.89,1080.55 702.77,1074.63C702.65,1068.72 702.09,1061.33 702.06,1056.89C702.03,1052.45 702.36,1052.31 702.59,1048.02C702.83,1043.73 703.3,1037.08 703.48,1031.16C703.66,1025.25 703.66,1018.01 703.66,1012.54C703.66,1007.07 703.57,1002.78 703.48,998.34C703.39,993.91 703.42,990.95 703.13,985.92C702.83,980.9 702.24,974.09 701.71,968.18C701.17,962.27 700.29,954.96 699.93,950.44C699.58,945.91 699.64,942.6 699.58,941.04Z" fill="#ff8000" stroke="#000" stroke-width="2.4" stroke-linejoin="round"/>
<line x1="692.58" y1="1031.16" x2="702.52" y2="1031.16" stroke="#000" stroke-width="4"/>
<path d="M716.45,935.89C716.22,938.32 715.33,945.06 715.04,950.44C714.74,955.82 714.74,960.79 714.68,968.18C714.62,975.57 714.68,986.81 714.68,994.79C714.68,1002.78 714.56,1010.17 714.68,1016.08C714.8,1022 715.09,1024.95 715.39,1030.28C715.69,1035.6 716.22,1042.11 716.45,1048.02C716.69,1053.93 716.78,1059.85 716.81,1065.76C716.84,1071.68 716.57,1077.59 716.63,1083.5C716.69,1089.42 716.9,1095.33 717.16,1101.25C717.43,1107.16 717.87,1112.87 718.23,1118.99C718.58,1125.11 719.06,1131.85 719.29,1137.97C719.53,1144.09 719.53,1149.8 719.65,1155.71C719.77,1161.63 719.94,1163.26 720,1173.45C720.06,1183.65 720,1209.66 720,1216.9L721.22,1216.9C721.22,1209.66 721.16,1183.65 721.22,1173.45C721.28,1163.26 721.46,1161.63 721.58,1155.71C721.7,1149.8 721.7,1144.09 721.93,1137.97C722.17,1131.85 722.64,1125.11 723,1118.99C723.35,1112.87 723.8,1107.16 724.06,1101.25C724.33,1095.33 724.53,1089.42 724.59,1083.5C724.65,1077.59 724.39,1071.68 724.42,1065.76C724.45,1059.85 724.53,1053.93 724.77,1048.02C725.01,1042.11 725.54,1035.6 725.84,1030.28C726.13,1024.95 726.43,1022 726.55,1016.08C726.66,1010.17 726.55,1002.78 726.55,994.79C726.55,986.81 726.6,975.57 726.55,968.18C726.49,960.79 726.49,955.82 726.19,950.44C725.89,945.06 725.01,938.32 724.77,935.89Z" fill="#ff0000" stroke="#000" stroke-width="2.4" stroke-linejoin="round"/>
<line x1="715.29" y1="1016.08" x2="725.94" y2="1016.08" stroke="#000" stroke-width="4"/>
<path d="M737.57,985.57C737.57,989.47 737.51,1002.42 737.57,1008.99C737.63,1015.55 737.63,1019.93 737.92,1024.95C738.22,1029.98 738.81,1033.83 739.34,1039.15C739.87,1044.47 740.52,1050.98 741.12,1056.89C741.71,1062.8 742.57,1068.72 742.89,1074.63C743.22,1080.55 743.04,1081.82 743.07,1092.37C743.1,1102.93 743.16,1127.41 743.07,1137.97C742.98,1148.53 742.74,1151.28 742.54,1155.71C742.33,1160.15 741.94,1160.15 741.83,1164.58C741.71,1169.02 741.86,1176.62 741.83,1182.33C741.8,1188.03 741.71,1194.24 741.65,1198.83C741.59,1203.41 741.5,1207.99 741.47,1209.83L745.53,1209.83C745.5,1207.99 745.41,1203.41 745.35,1198.83C745.29,1194.24 745.2,1188.03 745.17,1182.33C745.14,1176.62 745.29,1169.02 745.17,1164.58C745.06,1160.15 744.67,1160.15 744.46,1155.71C744.26,1151.28 744.02,1148.53 743.93,1137.97C743.84,1127.41 743.9,1102.93 743.93,1092.37C743.96,1081.82 743.78,1080.55 744.11,1074.63C744.43,1068.72 745.29,1062.8 745.88,1056.89C746.48,1050.98 747.13,1044.47 747.66,1039.15C748.19,1033.83 748.78,1029.98 749.08,1024.95C749.37,1019.93 749.37,1015.55 749.43,1008.99C749.49,1002.42 749.43,989.47 749.43,985.57Z" fill="#129cb8" stroke="#000" stroke-width="2.4" stroke-linejoin="round"/>
<line x1="738.53" y1="1008.99" x2="748.47" y2="1008.99" stroke="#000" stroke-width="4"/>
<path d="M779.97,963.26C780.03,965.77 780.27,967.25 780.33,978.34C780.38,989.43 780.62,1019.44 780.33,1029.79C780.03,1040.14 779.08,1035.71 778.55,1040.44C778.02,1045.17 777.55,1050.79 777.13,1058.18C776.72,1065.57 776.3,1076.96 776.07,1084.79C775.83,1092.63 775.65,1097.8 775.71,1105.2C775.77,1112.59 776.13,1122.2 776.42,1129.15C776.72,1136.1 777.13,1140.98 777.49,1146.89C777.84,1152.8 778.37,1157.24 778.55,1164.63C778.73,1172.02 778.61,1183.85 778.55,1191.25C778.49,1198.64 778.2,1204.71 778.2,1208.99C778.2,1213.26 778.49,1215.58 778.55,1216.9L784.74,1216.9C784.8,1215.58 785.09,1213.26 785.09,1208.99C785.09,1204.71 784.8,1198.64 784.74,1191.25C784.68,1183.85 784.56,1172.02 784.74,1164.63C784.92,1157.24 785.45,1152.8 785.8,1146.89C786.16,1140.98 786.57,1136.1 786.87,1129.15C787.16,1122.2 787.52,1112.59 787.58,1105.2C787.64,1097.8 787.46,1092.63 787.22,1084.79C786.99,1076.96 786.57,1065.57 786.16,1058.18C785.74,1050.79 785.27,1045.17 784.74,1040.44C784.21,1035.71 783.26,1040.14 782.96,1029.79C782.67,1019.44 782.91,989.43 782.96,978.34C783.02,967.25 783.26,965.77 783.32,963.26Z" fill="#08c008" stroke="#000" stroke-width="2.4" stroke-linejoin="round"/>
<line x1="776.68" y1="1105.55" x2="786.61" y2="1105.55" stroke="#000" stroke-width="4"/>
<path d="M803.75,966.99C803.8,980.71 804.16,1032.63 804.1,1049.31C804.04,1065.99 803.63,1061.14 803.39,1067.05C803.15,1072.97 802.92,1078.88 802.68,1084.79C802.44,1090.71 802.27,1096.62 801.97,1102.54C801.68,1108.45 801.2,1114.36 800.91,1120.28C800.61,1126.19 800.37,1131.01 800.2,1138.02C800.02,1145.03 799.96,1154.93 799.84,1162.33C799.72,1169.72 799.66,1176.08 799.49,1182.37C799.31,1188.67 798.9,1194.36 798.78,1200.12C798.66,1205.87 798.78,1214.1 798.78,1216.9L809.93,1216.9C809.93,1214.1 810.05,1205.87 809.93,1200.12C809.81,1194.36 809.4,1188.67 809.22,1182.37C809.05,1176.08 808.99,1169.72 808.87,1162.33C808.75,1154.93 808.69,1145.03 808.51,1138.02C808.34,1131.01 808.1,1126.19 807.8,1120.28C807.51,1114.36 807.03,1108.45 806.74,1102.54C806.44,1096.62 806.27,1090.71 806.03,1084.79C805.79,1078.88 805.56,1072.97 805.32,1067.05C805.08,1061.14 804.67,1065.99 804.61,1049.31C804.55,1032.63 804.91,980.71 804.96,966.99Z" fill="#ff8000" stroke="#000" stroke-width="2.4" stroke-linejoin="round"/>
<line x1="800.1" y1="1162.33" x2="808.61" y2="1162.33" stroke="#000" stroke-width="4"/>
<path d="M826.45,1023.58C826.45,1026.39 826.4,1035.56 826.45,1040.44C826.51,1045.32 826.93,1048.42 826.81,1052.86C826.69,1057.29 826.28,1061.73 825.75,1067.05C825.21,1072.37 824.27,1078.88 823.62,1084.79C822.97,1090.71 822.26,1097.21 821.84,1102.54C821.43,1107.86 821.13,1112.29 821.13,1116.73C821.13,1121.16 821.61,1125.6 821.84,1129.15C822.08,1132.7 822.49,1134.32 822.55,1138.02C822.61,1141.72 822.37,1146.89 822.2,1151.33C822.02,1155.76 821.61,1160.34 821.49,1164.63C821.37,1168.92 821.37,1173.21 821.49,1177.05C821.61,1180.9 822.08,1183.85 822.2,1187.7C822.32,1191.54 822.26,1196.57 822.2,1200.12C822.14,1203.66 821.9,1206.19 821.84,1208.99C821.78,1211.78 821.84,1215.58 821.84,1216.9L833,1216.9C833,1215.58 833.06,1211.78 833,1208.99C832.94,1206.19 832.7,1203.66 832.64,1200.12C832.58,1196.57 832.52,1191.54 832.64,1187.7C832.76,1183.85 833.23,1180.9 833.35,1177.05C833.47,1173.21 833.47,1168.92 833.35,1164.63C833.23,1160.34 832.82,1155.76 832.64,1151.33C832.46,1146.89 832.23,1141.72 832.29,1138.02C832.35,1134.32 832.76,1132.7 833,1129.15C833.23,1125.6 833.71,1121.16 833.71,1116.73C833.71,1112.29 833.41,1107.86 833,1102.54C832.58,1097.21 831.87,1090.71 831.22,1084.79C830.57,1078.88 829.63,1072.37 829.09,1067.05C828.56,1061.73 828.15,1057.29 828.03,1052.86C827.91,1048.42 828.32,1045.32 828.38,1040.44C828.44,1035.56 828.38,1026.39 828.38,1023.58Z" fill="#ff0000" stroke="#000" stroke-width="2.4" stroke-linejoin="round"/>
<line x1="822.45" y1="1150.97" x2="832.39" y2="1150.97" stroke="#000" stroke-width="4"/>
<path d="M846.68,1021.45C846.68,1029.05 846.74,1055.02 846.68,1067.05C846.62,1079.09 846.27,1084.79 846.33,1093.66C846.38,1102.54 846.92,1112.88 847.04,1120.28C847.15,1127.67 846.98,1132.99 847.04,1138.02C847.09,1143.05 847.51,1146 847.39,1150.44C847.27,1154.87 846.74,1159.31 846.33,1164.63C845.91,1169.95 845.26,1176.46 844.91,1182.37C844.55,1188.29 844.37,1194.36 844.2,1200.12C844.02,1205.87 843.9,1214.1 843.84,1216.9L856.42,1216.9C856.36,1214.1 856.24,1205.87 856.06,1200.12C855.88,1194.36 855.71,1188.29 855.35,1182.37C855,1176.46 854.35,1169.95 853.93,1164.63C853.52,1159.31 852.99,1154.87 852.87,1150.44C852.75,1146 853.16,1143.05 853.22,1138.02C853.28,1132.99 853.1,1127.67 853.22,1120.28C853.34,1112.88 853.87,1102.54 853.93,1093.66C853.99,1084.79 853.64,1079.09 853.58,1067.05C853.52,1055.02 853.58,1029.05 853.58,1021.45Z" fill="#129cb8" stroke="#000" stroke-width="2.4" stroke-linejoin="round"/>
<line x1="847.29" y1="1150.44" x2="852.97" y2="1150.44" stroke="#000" stroke-width="4"/>
<path d="M888.02,849.18C888.02,853.82 888.11,869.44 888.02,877.04C887.93,884.63 887.63,887.38 887.49,894.78C887.34,902.17 887.25,912.52 887.13,921.39C887.01,930.26 887.04,940.61 886.78,948C886.51,955.4 885.95,959.83 885.54,965.75C885.12,971.66 884.62,977.57 884.29,983.49C883.97,989.4 883.82,995.32 883.58,1001.23C883.35,1007.14 883.05,1012.29 882.87,1018.97C882.7,1025.65 882.52,1033.31 882.52,1041.33C882.52,1049.34 882.76,1057.44 882.87,1067.05C882.99,1076.66 883.05,1090.12 883.23,1098.99C883.41,1107.86 883.52,1113.77 883.94,1120.28C884.35,1126.78 885.18,1132.7 885.71,1138.02C886.25,1143.34 886.9,1147.78 887.13,1152.21C887.37,1156.65 887.16,1160.34 887.13,1164.63C887.1,1168.92 886.98,1175.28 886.95,1177.94C886.93,1180.6 886.95,1180.16 886.95,1180.6L889.95,1180.6C889.95,1180.16 889.98,1180.6 889.95,1177.94C889.92,1175.28 889.8,1168.92 889.77,1164.63C889.74,1160.34 889.53,1156.65 889.77,1152.21C890.01,1147.78 890.66,1143.34 891.19,1138.02C891.72,1132.7 892.55,1126.78 892.96,1120.28C893.38,1113.77 893.5,1107.86 893.67,1098.99C893.85,1090.12 893.91,1076.66 894.03,1067.05C894.15,1057.44 894.38,1049.34 894.38,1041.33C894.38,1033.31 894.21,1025.65 894.03,1018.97C893.85,1012.29 893.56,1007.14 893.32,1001.23C893.08,995.32 892.93,989.4 892.61,983.49C892.28,977.57 891.78,971.66 891.37,965.75C890.95,959.83 890.39,955.4 890.13,948C889.86,940.61 889.89,930.26 889.77,921.39C889.65,912.52 889.56,902.17 889.42,894.78C889.27,887.38 888.97,884.63 888.88,877.04C888.8,869.44 888.88,853.82 888.88,849.18Z" fill="#08c008" stroke="#000" stroke-width="2.4" stroke-linejoin="round"/>
<line x1="883.48" y1="1041.33" x2="893.42" y2="1041.33" stroke="#000" stroke-width="4"/>
<path d="M909.13,932.39C909.07,934.99 909.13,942.44 908.78,948C908.42,953.56 907.54,959.83 907,965.75C906.47,971.66 905.94,977.57 905.58,983.49C905.23,989.4 904.99,993.22 904.87,1001.23C904.76,1009.24 904.82,1020.89 904.87,1031.57C904.93,1042.24 904.99,1056.41 905.23,1065.28C905.47,1074.15 906.06,1077.11 906.29,1084.79C906.53,1092.48 906.65,1102.54 906.65,1111.41C906.65,1120.28 906.41,1129.15 906.29,1138.02C906.18,1146.89 905.88,1155.76 905.94,1164.63C906,1173.5 906.29,1183.85 906.65,1191.25C907,1198.64 907.65,1204.71 908.07,1208.99C908.48,1213.26 908.95,1215.58 909.13,1216.9L913.19,1216.9C913.37,1215.58 913.84,1213.26 914.25,1208.99C914.67,1204.71 915.32,1198.64 915.67,1191.25C916.03,1183.85 916.32,1173.5 916.38,1164.63C916.44,1155.76 916.15,1146.89 916.03,1138.02C915.91,1129.15 915.67,1120.28 915.67,1111.41C915.67,1102.54 915.79,1092.48 916.03,1084.79C916.27,1077.11 916.86,1074.15 917.09,1065.28C917.33,1056.41 917.39,1042.24 917.45,1031.57C917.51,1020.89 917.57,1009.24 917.45,1001.23C917.33,993.22 917.09,989.4 916.74,983.49C916.38,977.57 915.85,971.66 915.32,965.75C914.79,959.83 913.9,953.56 913.55,948C913.19,942.44 913.25,934.99 913.19,932.39Z" fill="#ff8000" stroke="#000" stroke-width="2.4" stroke-linejoin="round"/>
<line x1="906.19" y1="1065.28" x2="916.13" y2="1065.28" stroke="#000" stroke-width="4"/>
<path d="M933.62,1001.41C933.68,1016.78 934.03,1075.33 933.97,1093.66C933.91,1112 933.56,1105.49 933.26,1111.41C932.97,1117.32 932.49,1123.23 932.2,1129.15C931.9,1135.06 931.78,1140.98 931.49,1146.89C931.19,1152.8 930.84,1159.61 930.42,1164.63C930.01,1169.66 929.33,1173.65 929,1177.05C928.68,1180.45 928.71,1182.08 928.47,1185.04C928.23,1187.99 927.67,1191.39 927.58,1194.79C927.5,1198.19 927.64,1202.48 927.94,1205.44C928.23,1208.4 928.94,1210.63 929.36,1212.54C929.77,1214.45 930.25,1216.17 930.42,1216.9L938.03,1216.9C938.21,1216.17 938.68,1214.45 939.09,1212.54C939.51,1210.63 940.22,1208.4 940.51,1205.44C940.81,1202.48 940.96,1198.19 940.87,1194.79C940.78,1191.39 940.22,1187.99 939.98,1185.04C939.74,1182.08 939.77,1180.45 939.45,1177.05C939.12,1173.65 938.44,1169.66 938.03,1164.63C937.62,1159.61 937.26,1152.8 936.96,1146.89C936.67,1140.98 936.55,1135.06 936.25,1129.15C935.96,1123.23 935.49,1117.32 935.19,1111.41C934.89,1105.49 934.54,1112 934.48,1093.66C934.42,1075.33 934.78,1016.78 934.84,1001.41Z" fill="#ff0000" stroke="#000" stroke-width="2.4" stroke-linejoin="round"/>
<line x1="929.26" y1="1185.39" x2="939.19" y2="1185.39" stroke="#000" stroke-width="4"/>
<path d="M951,1137.13C951,1137.87 950.71,1140.09 951,1141.57C951.3,1143.05 952.07,1144.38 952.78,1146C953.49,1147.63 954.7,1149.7 955.26,1151.33C955.82,1152.95 956.15,1154.28 956.15,1155.76C956.15,1157.24 955.53,1158.72 955.26,1160.2C955,1161.68 954.67,1163.3 954.55,1164.63C954.43,1165.96 954.55,1167.59 954.55,1168.18L958.61,1168.18C958.61,1167.59 958.73,1165.96 958.61,1164.63C958.49,1163.3 958.17,1161.68 957.9,1160.2C957.63,1158.72 957.01,1157.24 957.01,1155.76C957.01,1154.28 957.34,1152.95 957.9,1151.33C958.46,1149.7 959.67,1147.63 960.38,1146C961.09,1144.38 961.86,1143.05 962.16,1141.57C962.45,1140.09 962.16,1137.87 962.16,1137.13Z" fill="#129cb8" stroke="#000" stroke-width="2.4" stroke-linejoin="round"/>
<line x1="951.26" y1="1139.44" x2="961.9" y2="1139.44" stroke="#000" stroke-width="4"/>
<path d="M994.26,1137.66C994.14,1140.68 993.79,1151.56 993.55,1155.76C993.32,1159.96 992.84,1160.49 992.84,1162.86C992.84,1165.22 993.43,1165.22 993.55,1169.95C993.67,1174.69 993.67,1185.63 993.55,1191.25C993.43,1196.86 993.26,1200.71 992.84,1203.66C992.43,1206.62 991.72,1207.21 991.07,1208.99C990.42,1210.76 989.41,1212.99 988.94,1214.31C988.47,1215.63 988.35,1216.47 988.23,1216.9L1000.8,1216.9C1000.68,1216.47 1000.57,1215.63 1000.09,1214.31C999.62,1212.99 998.62,1210.76 997.96,1208.99C997.31,1207.21 996.6,1206.62 996.19,1203.66C995.78,1200.71 995.6,1196.86 995.48,1191.25C995.36,1185.63 995.36,1174.69 995.48,1169.95C995.6,1165.22 996.19,1165.22 996.19,1162.86C996.19,1160.49 995.72,1159.96 995.48,1155.76C995.24,1151.56 994.89,1140.68 994.77,1137.66Z" fill="#08c008" stroke="#000" stroke-width="2.4" stroke-linejoin="round"/>
<path d="M1016.26,1138.02C1016.02,1140.98 1015.14,1151.33 1014.84,1155.76C1014.55,1160.2 1014.37,1161.68 1014.49,1164.63C1014.61,1167.59 1015.32,1169.07 1015.55,1173.5C1015.79,1177.94 1015.97,1186.81 1015.91,1191.25C1015.85,1195.68 1015.73,1197.45 1015.2,1200.12C1014.66,1202.78 1013.36,1205.14 1012.71,1207.21C1012.06,1209.28 1011.59,1210.92 1011.29,1212.54C1011,1214.15 1011,1216.17 1010.94,1216.9L1023.51,1216.9C1023.45,1216.17 1023.45,1214.15 1023.16,1212.54C1022.86,1210.92 1022.39,1209.28 1021.74,1207.21C1021.09,1205.14 1019.79,1202.78 1019.25,1200.12C1018.72,1197.45 1018.6,1195.68 1018.55,1191.25C1018.49,1186.81 1018.66,1177.94 1018.9,1173.5C1019.14,1169.07 1019.85,1167.59 1019.96,1164.63C1020.08,1161.68 1019.91,1160.2 1019.61,1155.76C1019.31,1151.33 1018.43,1140.98 1018.19,1138.02Z" fill="#ff8000" stroke="#000" stroke-width="2.4" stroke-linejoin="round"/>
<line x1="1011.9" y1="1214.84" x2="1022.55" y2="1214.84" stroke="#000" stroke-width="4"/>
<path d="M1038.97,1131.28C1038.97,1134.77 1039.33,1147.25 1038.97,1152.21C1038.62,1157.18 1037.49,1158.13 1036.84,1161.08C1036.19,1164.04 1035.54,1167 1035.07,1169.95C1034.59,1172.91 1034,1175.72 1034,1178.83C1034,1181.93 1034.77,1185.92 1035.07,1188.58C1035.36,1191.25 1035.72,1191.39 1035.78,1194.79C1035.84,1198.19 1035.48,1205.3 1035.42,1208.99C1035.36,1212.67 1035.42,1215.58 1035.42,1216.9L1045.16,1216.9C1045.16,1215.58 1045.22,1212.67 1045.16,1208.99C1045.1,1205.3 1044.74,1198.19 1044.8,1194.79C1044.86,1191.39 1045.22,1191.25 1045.51,1188.58C1045.81,1185.92 1046.58,1181.93 1046.58,1178.83C1046.58,1175.72 1045.99,1172.91 1045.51,1169.95C1045.04,1167 1044.39,1164.04 1043.74,1161.08C1043.09,1158.13 1041.96,1157.18 1041.61,1152.21C1041.25,1147.25 1041.61,1134.77 1041.61,1131.28Z" fill="#ff0000" stroke="#000" stroke-width="2.4" stroke-linejoin="round"/>
<line x1="1035.68" y1="1188.58" x2="1044.9" y2="1188.58" stroke="#000" stroke-width="4"/>
<path d="M1060.62,1134.47C1060.73,1137.43 1061.03,1147.78 1061.33,1152.21C1061.62,1156.65 1062.21,1157.54 1062.39,1161.08C1062.57,1164.63 1062.57,1169.95 1062.39,1173.5C1062.21,1177.05 1061.8,1179.42 1061.33,1182.37C1060.85,1185.33 1060.14,1188.29 1059.55,1191.25C1058.96,1194.2 1058.19,1197.75 1057.78,1200.12C1057.36,1202.48 1057.19,1202.64 1057.07,1205.44C1056.95,1208.24 1057.07,1214.99 1057.07,1216.9L1068.93,1216.9C1068.93,1214.99 1069.05,1208.24 1068.93,1205.44C1068.81,1202.64 1068.64,1202.48 1068.22,1200.12C1067.81,1197.75 1067.04,1194.2 1066.45,1191.25C1065.86,1188.29 1065.15,1185.33 1064.67,1182.37C1064.2,1179.42 1063.79,1177.05 1063.61,1173.5C1063.43,1169.95 1063.43,1164.63 1063.61,1161.08C1063.79,1157.54 1064.38,1156.65 1064.67,1152.21C1064.97,1147.78 1065.27,1137.43 1065.38,1134.47Z" fill="#129cb8" stroke="#000" stroke-width="2.4" stroke-linejoin="round"/>
<line x1="1058.03" y1="1205.44" x2="1067.97" y2="1205.44" stroke="#000" stroke-width="4"/>
<path d="M1099.65,1189.47C1099.18,1190.06 1097.52,1191.69 1096.81,1193.02C1096.1,1194.35 1095.45,1195.98 1095.39,1197.45C1095.33,1198.93 1096.22,1200.56 1096.45,1201.89C1096.69,1203.22 1096.81,1204.26 1096.81,1205.44C1096.81,1206.62 1096.45,1207.08 1096.45,1208.99C1096.45,1210.9 1096.75,1215.58 1096.81,1216.9L1105.84,1216.9C1105.89,1215.58 1106.19,1210.9 1106.19,1208.99C1106.19,1207.08 1105.84,1206.62 1105.84,1205.44C1105.84,1204.26 1105.95,1203.22 1106.19,1201.89C1106.43,1200.56 1107.31,1198.93 1107.25,1197.45C1107.2,1195.98 1106.55,1194.35 1105.84,1193.02C1105.13,1191.69 1103.47,1190.06 1103,1189.47Z" fill="#08c008" stroke="#000" stroke-width="2.4" stroke-linejoin="round"/>
<line x1="1096.35" y1="1204.02" x2="1106.29" y2="1204.02" stroke="#000" stroke-width="4"/>
<path d="M1123.07,1193.37C1123.13,1194.5 1123.78,1198.25 1123.42,1200.12C1123.07,1201.98 1121.71,1203.07 1120.94,1204.55C1120.17,1206.03 1119.22,1207.8 1118.81,1208.99C1118.4,1210.17 1118.34,1210.76 1118.45,1211.65C1118.57,1212.54 1119.05,1213.43 1119.52,1214.31C1119.99,1215.18 1121,1216.47 1121.29,1216.9L1127.48,1216.9C1127.78,1216.47 1128.78,1215.18 1129.25,1214.31C1129.73,1213.43 1130.2,1212.54 1130.32,1211.65C1130.44,1210.76 1130.38,1210.17 1129.96,1208.99C1129.55,1207.8 1128.6,1206.03 1127.84,1204.55C1127.07,1203.07 1125.71,1201.98 1125.35,1200.12C1125,1198.25 1125.65,1194.5 1125.71,1193.37Z" fill="#ff8000" stroke="#000" stroke-width="2.4" stroke-linejoin="round"/>
<line x1="1119.06" y1="1211.12" x2="1129.71" y2="1211.12" stroke="#000" stroke-width="4"/>
<path d="M1145.07,1190.36C1144.54,1191.1 1142.52,1193.46 1141.87,1194.79C1141.22,1196.12 1141.11,1196.57 1141.16,1198.34C1141.22,1200.12 1141.99,1203.66 1142.23,1205.44C1142.47,1207.21 1142.47,1207.08 1142.58,1208.99C1142.7,1210.9 1142.88,1215.58 1142.94,1216.9L1151.25,1216.9C1151.31,1215.58 1151.49,1210.9 1151.61,1208.99C1151.73,1207.08 1151.73,1207.21 1151.96,1205.44C1152.2,1203.66 1152.97,1200.12 1153.03,1198.34C1153.09,1196.57 1152.97,1196.12 1152.32,1194.79C1151.67,1193.46 1149.66,1191.1 1149.13,1190.36Z" fill="#ff0000" stroke="#000" stroke-width="2.4" stroke-linejoin="round"/>
<line x1="1142.48" y1="1205.44" x2="1151.71" y2="1205.44" stroke="#000" stroke-width="4"/>
<path d="M1164.23,1207.75C1164.47,1208.25 1165.12,1209.82 1165.65,1210.76C1166.18,1211.71 1167.6,1212.4 1167.42,1213.42C1167.25,1214.45 1165.06,1216.32 1164.58,1216.9L1175.74,1216.9C1175.27,1216.32 1173.08,1214.45 1172.9,1213.42C1172.72,1212.4 1174.14,1211.71 1174.67,1210.76C1175.21,1209.82 1175.86,1208.25 1176.09,1207.75Z" fill="#129cb8" stroke="#000" stroke-width="2.4" stroke-linejoin="round"/>
<path d="M1207.31,1044.87C1207.37,1047.09 1207.66,1051.53 1207.66,1058.18C1207.66,1064.83 1207.49,1077.4 1207.31,1084.79C1207.13,1092.19 1206.9,1096.62 1206.6,1102.54C1206.3,1108.45 1205.89,1114.36 1205.54,1120.28C1205.18,1126.19 1204.71,1132.11 1204.47,1138.02C1204.23,1143.93 1204.2,1150.73 1204.12,1155.76C1204.03,1160.79 1204.12,1164.63 1203.94,1168.18C1203.76,1171.73 1203.26,1173.21 1203.05,1177.05C1202.84,1180.9 1202.76,1186.51 1202.7,1191.25C1202.64,1195.98 1202.52,1201.16 1202.7,1205.44C1202.87,1209.71 1203.58,1214.99 1203.76,1216.9L1212.79,1216.9C1212.96,1214.99 1213.67,1209.71 1213.85,1205.44C1214.03,1201.16 1213.91,1195.98 1213.85,1191.25C1213.79,1186.51 1213.7,1180.9 1213.5,1177.05C1213.29,1173.21 1212.79,1171.73 1212.61,1168.18C1212.43,1164.63 1212.52,1160.79 1212.43,1155.76C1212.34,1150.73 1212.31,1143.93 1212.08,1138.02C1211.84,1132.11 1211.37,1126.19 1211.01,1120.28C1210.66,1114.36 1210.24,1108.45 1209.95,1102.54C1209.65,1096.62 1209.42,1092.19 1209.24,1084.79C1209.06,1077.4 1208.88,1064.83 1208.88,1058.18C1208.88,1051.53 1209.18,1047.09 1209.24,1044.87Z" fill="#08c008" stroke="#000" stroke-width="2.4" stroke-linejoin="round"/>
<line x1="1203.31" y1="1177.05" x2="1213.24" y2="1177.05" stroke="#000" stroke-width="4"/>
<path d="M1228.42,1030.33C1228.3,1033.49 1228.19,1043.78 1227.71,1049.31C1227.24,1054.84 1226.06,1058.92 1225.58,1063.5C1225.11,1068.09 1224.82,1072.67 1224.87,1076.81C1224.93,1080.95 1225.17,1084.05 1225.94,1088.34C1226.71,1092.63 1228.78,1097.8 1229.49,1102.54C1230.2,1107.27 1230.43,1112.29 1230.2,1116.73C1229.96,1121.16 1228.6,1125.6 1228.07,1129.15C1227.54,1132.7 1227.18,1135.36 1227,1138.02C1226.83,1140.68 1227,1143.93 1227,1145.12L1235.32,1145.12C1235.32,1143.93 1235.5,1140.68 1235.32,1138.02C1235.14,1135.36 1234.79,1132.7 1234.25,1129.15C1233.72,1125.6 1232.36,1121.16 1232.13,1116.73C1231.89,1112.29 1232.13,1107.27 1232.84,1102.54C1233.55,1097.8 1235.62,1092.63 1236.38,1088.34C1237.15,1084.05 1237.39,1080.95 1237.45,1076.81C1237.51,1072.67 1237.21,1068.09 1236.74,1063.5C1236.27,1058.92 1235.08,1054.84 1234.61,1049.31C1234.14,1043.78 1234.02,1033.49 1233.9,1030.33Z" fill="#ff8000" stroke="#000" stroke-width="2.4" stroke-linejoin="round"/>
<line x1="1225.84" y1="1076.81" x2="1236.48" y2="1076.81" stroke="#000" stroke-width="4"/>
<path d="M1252.2,994.31C1252.02,996.08 1251.78,1000.82 1251.13,1004.95C1250.48,1009.09 1248.94,1014.12 1248.29,1019.15C1247.64,1024.18 1247.29,1030.09 1247.23,1035.12C1247.17,1040.14 1247.52,1043.99 1247.94,1049.31C1248.35,1054.63 1249.24,1061.14 1249.71,1067.05C1250.19,1072.97 1250.54,1080.21 1250.78,1084.79C1251.01,1089.38 1251.13,1088.64 1251.13,1094.55C1251.13,1100.47 1250.9,1110.08 1250.78,1120.28C1250.66,1130.48 1250.42,1143.93 1250.42,1155.76C1250.42,1167.59 1250.66,1182.37 1250.78,1191.25C1250.9,1200.12 1251.01,1204.71 1251.13,1208.99C1251.25,1213.26 1251.43,1215.58 1251.49,1216.9L1256.25,1216.9C1256.31,1215.58 1256.49,1213.26 1256.61,1208.99C1256.73,1204.71 1256.85,1200.12 1256.96,1191.25C1257.08,1182.37 1257.32,1167.59 1257.32,1155.76C1257.32,1143.93 1257.08,1130.48 1256.96,1120.28C1256.85,1110.08 1256.61,1100.47 1256.61,1094.55C1256.61,1088.64 1256.73,1089.38 1256.96,1084.79C1257.2,1080.21 1257.56,1072.97 1258.03,1067.05C1258.5,1061.14 1259.39,1054.63 1259.8,1049.31C1260.22,1043.99 1260.57,1040.14 1260.51,1035.12C1260.45,1030.09 1260.1,1024.18 1259.45,1019.15C1258.8,1014.12 1257.26,1009.09 1256.61,1004.95C1255.96,1000.82 1255.72,996.08 1255.55,994.31Z" fill="#ff0000" stroke="#000" stroke-width="2.4" stroke-linejoin="round"/>
<line x1="1250.68" y1="1094.55" x2="1257.06" y2="1094.55" stroke="#000" stroke-width="4"/>
<path d="M1272.78,1091C1272.6,1092.93 1272.01,1096.77 1271.71,1102.54C1271.42,1108.3 1271.06,1119.69 1271,1125.6C1270.94,1131.51 1271,1134.47 1271.36,1138.02C1271.71,1141.57 1272.48,1143.93 1273.13,1146.89C1273.78,1149.85 1274.91,1151.33 1275.26,1155.76C1275.62,1160.2 1275.5,1168.77 1275.26,1173.5C1275.02,1178.23 1274.14,1181.04 1273.84,1184.15C1273.55,1187.25 1273.55,1190.8 1273.49,1192.13L1280.38,1192.13C1280.32,1190.8 1280.32,1187.25 1280.03,1184.15C1279.73,1181.04 1278.85,1178.23 1278.61,1173.5C1278.37,1168.77 1278.25,1160.2 1278.61,1155.76C1278.96,1151.33 1280.09,1149.85 1280.74,1146.89C1281.39,1143.93 1282.16,1141.57 1282.51,1138.02C1282.87,1134.47 1282.93,1131.51 1282.87,1125.6C1282.81,1119.69 1282.45,1108.3 1282.16,1102.54C1281.86,1096.77 1281.27,1092.93 1281.09,1091Z" fill="#129cb8" stroke="#000" stroke-width="2.4" stroke-linejoin="round"/>
<line x1="1271.61" y1="1125.6" x2="1282.26" y2="1125.6" stroke="#000" stroke-width="4"/>
<path d="M1314.12,1123.47C1314,1125.9 1313.7,1132.64 1313.41,1138.02C1313.11,1143.4 1312.58,1150.44 1312.34,1155.76C1312.11,1161.08 1311.81,1165.52 1311.99,1169.95C1312.16,1174.39 1313.11,1178.53 1313.41,1182.37C1313.7,1186.22 1314.12,1190.06 1313.76,1193.02C1313.41,1195.98 1311.99,1197.45 1311.28,1200.12C1310.57,1202.78 1309.86,1206.19 1309.5,1208.99C1309.15,1211.78 1309.21,1215.58 1309.15,1216.9L1321.01,1216.9C1320.95,1215.58 1321.01,1211.78 1320.66,1208.99C1320.3,1206.19 1319.59,1202.78 1318.88,1200.12C1318.17,1197.45 1316.75,1195.98 1316.4,1193.02C1316.05,1190.06 1316.46,1186.22 1316.75,1182.37C1317.05,1178.53 1318,1174.39 1318.17,1169.95C1318.35,1165.52 1318.06,1161.08 1317.82,1155.76C1317.58,1150.44 1317.05,1143.4 1316.75,1138.02C1316.46,1132.64 1316.16,1125.9 1316.05,1123.47Z" fill="#08c008" stroke="#000" stroke-width="2.4" stroke-linejoin="round"/>
<line x1="1313.66" y1="1193.37" x2="1316.5" y2="1193.37" stroke="#000" stroke-width="4"/>
<path d="M1337.36,1191.25C1337.36,1195.09 1337.48,1210.03 1337.36,1214.31C1337.24,1218.59 1336.77,1216.47 1336.65,1216.9L1338.58,1216.9C1338.46,1216.47 1337.98,1218.59 1337.86,1214.31C1337.74,1210.03 1337.86,1195.09 1337.86,1191.25Z" fill="#ff8000" stroke="#000" stroke-width="2.4" stroke-linejoin="round"/>
<path d="M1360.25,1209.87C1360.25,1211.05 1360.25,1215.73 1360.25,1216.9L1361.46,1216.9C1361.46,1215.73 1361.46,1211.05 1361.46,1209.87Z" fill="#ff0000" stroke="#000" stroke-width="2.4" stroke-linejoin="round"/>
<path d="M1381,1158.95C1381.18,1161.38 1381.83,1169.3 1382.07,1173.5C1382.3,1177.7 1382.72,1180.6 1382.42,1184.15C1382.13,1187.7 1381,1191.1 1380.29,1194.79C1379.58,1198.49 1378.52,1202.64 1378.16,1206.33C1377.81,1210.01 1378.16,1215.14 1378.16,1216.9L1389.32,1216.9C1389.32,1215.14 1389.67,1210.01 1389.32,1206.33C1388.96,1202.64 1387.9,1198.49 1387.19,1194.79C1386.48,1191.1 1385.36,1187.7 1385.06,1184.15C1384.77,1180.6 1385.18,1177.7 1385.42,1173.5C1385.65,1169.3 1386.3,1161.38 1386.48,1158.95Z" fill="#129cb8" stroke="#000" stroke-width="2.4" stroke-linejoin="round"/>
<line x1="1379.13" y1="1206.33" x2="1388.35" y2="1206.33" stroke="#000" stroke-width="4"/>
<path d="M1421.6,1087.99C1421.48,1090.41 1421.42,1098.63 1420.89,1102.54C1420.36,1106.44 1419.12,1108.45 1418.41,1111.41C1417.7,1114.36 1417.05,1117.32 1416.63,1120.28C1416.22,1123.23 1415.98,1123.83 1415.92,1129.15C1415.86,1134.47 1416.1,1146.3 1416.28,1152.21C1416.45,1158.13 1416.57,1160.49 1416.99,1164.63C1417.4,1168.77 1418.11,1172.91 1418.76,1177.05C1419.41,1181.19 1420.48,1186.22 1420.89,1189.47C1421.3,1192.72 1421.48,1193.91 1421.25,1196.57C1421.01,1199.23 1419.88,1202.05 1419.47,1205.44C1419.06,1208.83 1418.88,1214.99 1418.76,1216.9L1424.95,1216.9C1424.83,1214.99 1424.65,1208.83 1424.24,1205.44C1423.82,1202.05 1422.7,1199.23 1422.46,1196.57C1422.23,1193.91 1422.41,1192.72 1422.82,1189.47C1423.23,1186.22 1424.3,1181.19 1424.95,1177.05C1425.6,1172.91 1426.31,1168.77 1426.72,1164.63C1427.14,1160.49 1427.25,1158.13 1427.43,1152.21C1427.61,1146.3 1427.85,1134.47 1427.79,1129.15C1427.73,1123.83 1427.49,1123.23 1427.08,1120.28C1426.66,1117.32 1426.01,1114.36 1425.3,1111.41C1424.59,1108.45 1423.35,1106.44 1422.82,1102.54C1422.29,1098.63 1422.23,1090.41 1422.11,1087.99Z" fill="#08c008" stroke="#000" stroke-width="2.4" stroke-linejoin="round"/>
<line x1="1417.24" y1="1152.57" x2="1426.47" y2="1152.57" stroke="#000" stroke-width="4"/>
<path d="M1441.65,1142.45C1441.83,1144.08 1442.59,1149.4 1442.71,1152.21C1442.83,1155.02 1442.83,1156.65 1442.36,1159.31C1441.88,1161.97 1440.41,1164.93 1439.87,1168.18C1439.34,1171.43 1439.28,1175.48 1439.16,1178.83C1439.05,1182.17 1438.99,1185.27 1439.16,1188.23C1439.34,1191.19 1440.17,1193.7 1440.23,1196.57C1440.29,1199.44 1439.64,1202.05 1439.52,1205.44C1439.4,1208.83 1439.52,1214.99 1439.52,1216.9L1449.96,1216.9C1449.96,1214.99 1450.08,1208.83 1449.96,1205.44C1449.85,1202.05 1449.2,1199.44 1449.25,1196.57C1449.31,1193.7 1450.14,1191.19 1450.32,1188.23C1450.5,1185.27 1450.44,1182.17 1450.32,1178.83C1450.2,1175.48 1450.14,1171.43 1449.61,1168.18C1449.08,1164.93 1447.6,1161.97 1447.13,1159.31C1446.65,1156.65 1446.65,1155.02 1446.77,1152.21C1446.89,1149.4 1447.66,1144.08 1447.84,1142.45Z" fill="#ff8000" stroke="#000" stroke-width="2.4" stroke-linejoin="round"/>
<line x1="1439.77" y1="1188.23" x2="1449.71" y2="1188.23" stroke="#000" stroke-width="4"/>
<path d="M1467.2,1193.91C1467.2,1197.74 1467.2,1213.07 1467.2,1216.9L1467.7,1216.9C1467.7,1213.07 1467.7,1197.74 1467.7,1193.91Z" fill="#ff0000" stroke="#000" stroke-width="2.4" stroke-linejoin="round"/>
<path d="M1487.25,1119.92C1487.25,1125.9 1487.3,1146.83 1487.25,1155.76C1487.19,1164.69 1486.83,1168.71 1486.89,1173.5C1486.95,1178.29 1487.66,1180.95 1487.6,1184.5C1487.54,1188.05 1486.95,1191.3 1486.54,1194.79C1486.12,1198.28 1485.41,1201.75 1485.12,1205.44C1484.82,1209.12 1484.82,1214.99 1484.76,1216.9L1496.63,1216.9C1496.57,1214.99 1496.57,1209.12 1496.27,1205.44C1495.98,1201.75 1495.27,1198.28 1494.85,1194.79C1494.44,1191.3 1493.85,1188.05 1493.79,1184.5C1493.73,1180.95 1494.44,1178.29 1494.5,1173.5C1494.56,1168.71 1494.2,1164.69 1494.14,1155.76C1494.08,1146.83 1494.14,1125.9 1494.14,1119.92Z" fill="#129cb8" stroke="#000" stroke-width="2.4" stroke-linejoin="round"/>
<line x1="1487.5" y1="1184.5" x2="1493.89" y2="1184.5" stroke="#000" stroke-width="4"/>
<path d="M1524.86,981.89C1524.62,984.26 1523.85,989.28 1523.44,996.08C1523.02,1002.88 1522.49,1013.83 1522.37,1022.7C1522.26,1031.57 1522.55,1039.55 1522.73,1049.31C1522.91,1059.07 1523.2,1072.37 1523.44,1081.25C1523.68,1090.12 1523.85,1093.07 1524.15,1102.54C1524.44,1112 1524.92,1126.19 1525.21,1138.02C1525.51,1149.85 1525.69,1163.15 1525.92,1173.5C1526.16,1183.85 1526.4,1192.88 1526.63,1200.12C1526.87,1207.35 1527.22,1214.1 1527.34,1216.9L1529.98,1216.9C1530.1,1214.1 1530.45,1207.35 1530.69,1200.12C1530.93,1192.88 1531.16,1183.85 1531.4,1173.5C1531.64,1163.15 1531.81,1149.85 1532.11,1138.02C1532.41,1126.19 1532.88,1112 1533.17,1102.54C1533.47,1093.07 1533.65,1090.12 1533.88,1081.25C1534.12,1072.37 1534.42,1059.07 1534.59,1049.31C1534.77,1039.55 1535.07,1031.57 1534.95,1022.7C1534.83,1013.83 1534.3,1002.88 1533.88,996.08C1533.47,989.28 1532.7,984.26 1532.46,981.89Z" fill="#08c008" stroke="#000" stroke-width="2.4" stroke-linejoin="round"/>
<line x1="1523.69" y1="1081.25" x2="1533.63" y2="1081.25" stroke="#000" stroke-width="4"/>
<path d="M1547.04,1063.5C1546.83,1064.69 1546.03,1067.05 1545.79,1070.6C1545.56,1074.15 1545.59,1079.77 1545.62,1084.79C1545.65,1089.82 1545.68,1094.85 1545.97,1100.76C1546.27,1106.68 1546.8,1114.07 1547.39,1120.28C1547.98,1126.49 1549.05,1132.11 1549.52,1138.02C1549.99,1143.93 1549.99,1149.85 1550.23,1155.76C1550.47,1161.68 1550.76,1167.59 1550.94,1173.5C1551.12,1179.42 1551.47,1185.33 1551.29,1191.25C1551.12,1197.16 1550.17,1204.71 1549.87,1208.99C1549.58,1213.26 1549.58,1215.58 1549.52,1216.9L1553.58,1216.9C1553.52,1215.58 1553.52,1213.26 1553.22,1208.99C1552.93,1204.71 1551.98,1197.16 1551.8,1191.25C1551.63,1185.33 1551.98,1179.42 1552.16,1173.5C1552.34,1167.59 1552.63,1161.68 1552.87,1155.76C1553.1,1149.85 1553.1,1143.93 1553.58,1138.02C1554.05,1132.11 1555.12,1126.49 1555.71,1120.28C1556.3,1114.07 1556.83,1106.68 1557.13,1100.76C1557.42,1094.85 1557.45,1089.82 1557.48,1084.79C1557.51,1079.77 1557.54,1074.15 1557.3,1070.6C1557.07,1067.05 1556.27,1064.69 1556.06,1063.5Z" fill="#ff8000" stroke="#000" stroke-width="2.4" stroke-linejoin="round"/>
<line x1="1546.58" y1="1101.12" x2="1556.52" y2="1101.12" stroke="#000" stroke-width="4"/>
<path d="M1572.76,1033.7C1572.82,1036.3 1572.94,1044.93 1573.12,1049.31C1573.29,1053.69 1574.12,1055.52 1573.83,1059.95C1573.53,1064.39 1572.05,1070.3 1571.34,1075.92C1570.63,1081.54 1570.04,1088.4 1569.57,1093.66C1569.09,1098.93 1568.68,1103.07 1568.5,1107.5C1568.33,1111.94 1568.27,1116.67 1568.5,1120.28C1568.74,1123.88 1569.33,1126.19 1569.92,1129.15C1570.51,1132.11 1571.52,1135.06 1572.05,1138.02C1572.58,1140.98 1572.94,1145.41 1573.12,1146.89L1575.75,1146.89C1575.93,1145.41 1576.29,1140.98 1576.82,1138.02C1577.35,1135.06 1578.36,1132.11 1578.95,1129.15C1579.54,1126.19 1580.13,1123.88 1580.37,1120.28C1580.6,1116.67 1580.55,1111.94 1580.37,1107.5C1580.19,1103.07 1579.78,1098.93 1579.3,1093.66C1578.83,1088.4 1578.24,1081.54 1577.53,1075.92C1576.82,1070.3 1575.34,1064.39 1575.05,1059.95C1574.75,1055.52 1575.58,1053.69 1575.75,1049.31C1575.93,1044.93 1576.05,1036.3 1576.11,1033.7Z" fill="#ff0000" stroke="#000" stroke-width="2.4" stroke-linejoin="round"/>
<line x1="1569.11" y1="1107.5" x2="1579.76" y2="1107.5" stroke="#000" stroke-width="4"/>
<path d="M1591.21,1079.83C1591.27,1081.25 1591.04,1085.15 1591.57,1088.34C1592.1,1091.54 1593.55,1095.73 1594.41,1098.99C1595.26,1102.24 1596.71,1104.9 1596.71,1107.86C1596.71,1110.82 1595.26,1113.48 1594.41,1116.73C1593.55,1119.98 1592.1,1123.97 1591.57,1127.37C1591.04,1130.77 1591.27,1135.51 1591.21,1137.13L1603.08,1137.13C1603.02,1135.51 1603.25,1130.77 1602.72,1127.37C1602.19,1123.97 1600.74,1119.98 1599.88,1116.73C1599.03,1113.48 1597.58,1110.82 1597.58,1107.86C1597.58,1104.9 1599.03,1102.24 1599.88,1098.99C1600.74,1095.73 1602.19,1091.54 1602.72,1088.34C1603.25,1085.15 1603.02,1081.25 1603.08,1079.83Z" fill="#129cb8" stroke="#000" stroke-width="2.4" stroke-linejoin="round"/>
<path d="M1635.18,1169.07C1635.12,1170.99 1635.12,1177.35 1634.83,1180.6C1634.53,1183.85 1633.41,1185.92 1633.41,1188.58C1633.41,1191.25 1634.77,1193.76 1634.83,1196.57C1634.88,1199.38 1634.35,1202.78 1633.76,1205.44C1633.17,1208.1 1631.99,1210.63 1631.28,1212.54C1630.57,1214.45 1629.8,1216.17 1629.5,1216.9L1641.37,1216.9C1641.07,1216.17 1640.3,1214.45 1639.59,1212.54C1638.88,1210.63 1637.7,1208.1 1637.11,1205.44C1636.52,1202.78 1635.99,1199.38 1636.05,1196.57C1636.1,1193.76 1637.46,1191.25 1637.46,1188.58C1637.46,1185.92 1636.34,1183.85 1636.05,1180.6C1635.75,1177.35 1635.75,1170.99 1635.69,1169.07Z" fill="#08c008" stroke="#000" stroke-width="2.4" stroke-linejoin="round"/>
<line x1="1630.82" y1="1214.66" x2="1640.05" y2="1214.66" stroke="#000" stroke-width="4"/>
<path d="M1656.83,1179.71C1656.97,1180.75 1657.83,1183.7 1657.71,1185.92C1657.59,1188.14 1656.8,1190.65 1656.12,1193.02C1655.44,1195.38 1654.28,1197.75 1653.63,1200.12C1652.98,1202.48 1652.21,1205.14 1652.21,1207.21C1652.21,1209.28 1653.57,1210.92 1653.63,1212.54C1653.69,1214.15 1652.75,1216.17 1652.57,1216.9L1663.72,1216.9C1663.55,1216.17 1662.6,1214.15 1662.66,1212.54C1662.72,1210.92 1664.08,1209.28 1664.08,1207.21C1664.08,1205.14 1663.31,1202.48 1662.66,1200.12C1662.01,1197.75 1660.85,1195.38 1660.17,1193.02C1659.49,1190.65 1658.7,1188.14 1658.58,1185.92C1658.46,1183.7 1659.32,1180.75 1659.46,1179.71Z" fill="#ff8000" stroke="#000" stroke-width="2.4" stroke-linejoin="round"/>
<line x1="1653.18" y1="1207.57" x2="1663.11" y2="1207.57" stroke="#000" stroke-width="4"/>
<path d="M1678.83,1172.62C1678.77,1175.72 1678.65,1186.66 1678.47,1191.25C1678.29,1195.83 1677.82,1197.75 1677.76,1200.12C1677.7,1202.48 1678.41,1203.66 1678.12,1205.44C1677.82,1207.21 1676.52,1208.85 1675.99,1210.76C1675.45,1212.67 1675.1,1215.88 1674.92,1216.9L1686.79,1216.9C1686.61,1215.88 1686.25,1212.67 1685.72,1210.76C1685.19,1208.85 1683.89,1207.21 1683.59,1205.44C1683.3,1203.66 1684.01,1202.48 1683.95,1200.12C1683.89,1197.75 1683.42,1195.83 1683.24,1191.25C1683.06,1186.66 1682.94,1175.72 1682.88,1172.62Z" fill="#ff0000" stroke="#000" stroke-width="2.4" stroke-linejoin="round"/>
<line x1="1678.37" y1="1204.02" x2="1683.34" y2="1204.02" stroke="#000" stroke-width="4"/>
<path d="M1700.12,1184.5C1699.82,1185.63 1698.7,1188.94 1698.34,1191.25C1697.99,1193.55 1697.63,1195.98 1697.99,1198.34C1698.34,1200.71 1699.76,1203.37 1700.47,1205.44C1701.18,1207.51 1702.01,1208.85 1702.25,1210.76C1702.48,1212.67 1701.95,1215.88 1701.89,1216.9L1705.95,1216.9C1705.89,1215.88 1705.36,1212.67 1705.59,1210.76C1705.83,1208.85 1706.66,1207.51 1707.37,1205.44C1708.08,1203.37 1709.5,1200.71 1709.85,1198.34C1710.21,1195.98 1709.85,1193.55 1709.5,1191.25C1709.14,1188.94 1708.02,1185.63 1707.72,1184.5Z" fill="#129cb8" stroke="#000" stroke-width="2.4" stroke-linejoin="round"/>
<line x1="1698.95" y1="1197.99" x2="1708.89" y2="1197.99" stroke="#000" stroke-width="4"/>
<path d="M1741.63,1114.95C1741.57,1116.73 1741.51,1122.94 1741.28,1125.6C1741.04,1128.26 1740.21,1129.15 1740.21,1130.92C1740.21,1132.7 1741.45,1133.88 1741.28,1136.25C1741.1,1138.61 1739.86,1141.86 1739.15,1145.12C1738.44,1148.37 1737.55,1152.36 1737.02,1155.76C1736.49,1159.16 1735.95,1162.56 1735.95,1165.52C1735.95,1168.48 1736.37,1170.69 1737.02,1173.5C1737.67,1176.31 1739.09,1180.01 1739.86,1182.37C1740.63,1184.74 1741.34,1183.26 1741.63,1187.7C1741.93,1192.13 1741.75,1204.85 1741.63,1208.99C1741.51,1213.13 1741.28,1211.22 1740.92,1212.54C1740.57,1213.85 1739.74,1216.17 1739.5,1216.9L1744.27,1216.9C1744.03,1216.17 1743.21,1213.85 1742.85,1212.54C1742.5,1211.22 1742.26,1213.13 1742.14,1208.99C1742.02,1204.85 1741.85,1192.13 1742.14,1187.7C1742.44,1183.26 1743.15,1184.74 1743.92,1182.37C1744.68,1180.01 1746.1,1176.31 1746.75,1173.5C1747.41,1170.69 1747.82,1168.48 1747.82,1165.52C1747.82,1162.56 1747.29,1159.16 1746.75,1155.76C1746.22,1152.36 1745.34,1148.37 1744.63,1145.12C1743.92,1141.86 1742.67,1138.61 1742.5,1136.25C1742.32,1133.88 1743.56,1132.7 1743.56,1130.92C1743.56,1129.15 1742.73,1128.26 1742.5,1125.6C1742.26,1122.94 1742.2,1116.73 1742.14,1114.95Z" fill="#08c008" stroke="#000" stroke-width="2.4" stroke-linejoin="round"/>
<line x1="1736.92" y1="1165.52" x2="1746.85" y2="1165.52" stroke="#000" stroke-width="4"/>
<path d="M1762.57,1112.83C1762.69,1114.95 1762.98,1122.29 1763.28,1125.6C1763.57,1128.91 1764.52,1130.04 1764.34,1132.7C1764.16,1135.36 1762.92,1138.91 1762.21,1141.57C1761.5,1144.23 1760.62,1146.15 1760.08,1148.66C1759.55,1151.18 1759.02,1153.99 1759.02,1156.65C1759.02,1159.31 1759.49,1161.82 1760.08,1164.63C1760.68,1167.44 1761.92,1170.55 1762.57,1173.5C1763.22,1176.46 1763.75,1179.42 1763.99,1182.37C1764.22,1185.33 1764.05,1188.58 1763.99,1191.25C1763.93,1193.91 1763.57,1195.98 1763.63,1198.34C1763.69,1200.71 1764.22,1202.35 1764.34,1205.44C1764.46,1208.53 1764.34,1214.99 1764.34,1216.9L1765.56,1216.9C1765.56,1214.99 1765.44,1208.53 1765.56,1205.44C1765.68,1202.35 1766.21,1200.71 1766.27,1198.34C1766.33,1195.98 1765.98,1193.91 1765.92,1191.25C1765.86,1188.58 1765.68,1185.33 1765.92,1182.37C1766.15,1179.42 1766.68,1176.46 1767.34,1173.5C1767.99,1170.55 1769.23,1167.44 1769.82,1164.63C1770.41,1161.82 1770.88,1159.31 1770.88,1156.65C1770.88,1153.99 1770.35,1151.18 1769.82,1148.66C1769.29,1146.15 1768.4,1144.23 1767.69,1141.57C1766.98,1138.91 1765.74,1135.36 1765.56,1132.7C1765.38,1130.04 1766.33,1128.91 1766.63,1125.6C1766.92,1122.29 1767.22,1114.95 1767.34,1112.83Z" fill="#ff8000" stroke="#000" stroke-width="2.4" stroke-linejoin="round"/>
<line x1="1759.63" y1="1156.65" x2="1770.27" y2="1156.65" stroke="#000" stroke-width="4"/>
<path d="M1785.99,1101.12C1785.51,1101.94 1783.86,1104.22 1783.15,1106.08C1782.44,1107.95 1781.73,1110.22 1781.73,1112.29C1781.73,1114.36 1782.38,1115.99 1783.15,1118.5C1783.92,1121.02 1786.16,1124.71 1786.34,1127.37C1786.52,1130.04 1784.75,1132.4 1784.21,1134.47C1783.68,1136.54 1783.15,1137.72 1783.15,1139.79C1783.15,1141.86 1783.86,1144.52 1784.21,1146.89C1784.57,1149.26 1785.1,1151.77 1785.28,1153.99C1785.45,1156.2 1785.28,1159.16 1785.28,1160.2L1790.05,1160.2C1790.05,1159.16 1789.87,1156.2 1790.05,1153.99C1790.22,1151.77 1790.75,1149.26 1791.11,1146.89C1791.46,1144.52 1792.17,1141.86 1792.17,1139.79C1792.17,1137.72 1791.64,1136.54 1791.11,1134.47C1790.58,1132.4 1788.8,1130.04 1788.98,1127.37C1789.16,1124.71 1791.41,1121.02 1792.17,1118.5C1792.94,1115.99 1793.59,1114.36 1793.59,1112.29C1793.59,1110.22 1792.88,1107.95 1792.17,1106.08C1791.46,1104.22 1789.81,1101.94 1789.34,1101.12Z" fill="#ff0000" stroke="#000" stroke-width="2.4" stroke-linejoin="round"/>
<line x1="1785.89" y1="1127.37" x2="1789.44" y2="1127.37" stroke="#000" stroke-width="4"/>
<path d="M1804.79,1130.57C1805.03,1131.51 1805.56,1134.41 1806.21,1136.25C1806.86,1138.08 1808.7,1139.5 1808.7,1141.57C1808.7,1143.64 1806.69,1146.59 1806.21,1148.66C1805.74,1150.73 1805.86,1152.57 1805.86,1153.99C1805.86,1155.41 1806.15,1156.65 1806.21,1157.18L1815.24,1157.18C1815.3,1156.65 1815.59,1155.41 1815.59,1153.99C1815.59,1152.57 1815.71,1150.73 1815.24,1148.66C1814.77,1146.59 1812.75,1143.64 1812.75,1141.57C1812.75,1139.5 1814.59,1138.08 1815.24,1136.25C1815.89,1134.41 1816.42,1131.51 1816.66,1130.57Z" fill="#129cb8" stroke="#000" stroke-width="2.4" stroke-linejoin="round"/>
<path d="M1848.21,1053.21C1848.18,1062.02 1848.21,1094.91 1848.04,1106.08C1847.86,1117.26 1847.36,1114.95 1847.15,1120.28C1846.94,1125.6 1846.97,1132.11 1846.79,1138.02C1846.62,1143.93 1846.32,1149.85 1846.08,1155.76C1845.85,1161.68 1845.37,1168.77 1845.37,1173.5C1845.37,1178.23 1845.85,1181.19 1846.08,1184.15C1846.32,1187.11 1846.97,1188.58 1846.79,1191.25C1846.62,1193.91 1845.67,1197.16 1845.02,1200.12C1844.37,1203.07 1843.3,1206.19 1842.89,1208.99C1842.48,1211.78 1842.59,1215.58 1842.54,1216.9L1854.4,1216.9C1854.34,1215.58 1854.46,1211.78 1854.05,1208.99C1853.63,1206.19 1852.57,1203.07 1851.92,1200.12C1851.27,1197.16 1850.32,1193.91 1850.14,1191.25C1849.96,1188.58 1850.62,1187.11 1850.85,1184.15C1851.09,1181.19 1851.56,1178.23 1851.56,1173.5C1851.56,1168.77 1851.09,1161.68 1850.85,1155.76C1850.62,1149.85 1850.32,1143.93 1850.14,1138.02C1849.96,1132.11 1849.99,1125.6 1849.79,1120.28C1849.58,1114.95 1849.08,1117.26 1848.9,1106.08C1848.72,1094.91 1848.75,1062.02 1848.72,1053.21Z" fill="#08c008" stroke="#000" stroke-width="2.4" stroke-linejoin="round"/>
<line x1="1846.69" y1="1191.25" x2="1850.24" y2="1191.25" stroke="#000" stroke-width="4"/>
<path d="M1871.28,1118.86C1871.25,1123.53 1871.34,1140.15 1871.1,1146.89C1870.86,1153.63 1870.18,1155.47 1869.86,1159.31C1869.53,1163.15 1869.15,1166.11 1869.15,1169.95C1869.15,1173.8 1869.62,1178.53 1869.86,1182.37C1870.09,1186.22 1870.8,1189.77 1870.57,1193.02C1870.33,1196.27 1869.15,1198.93 1868.44,1201.89C1867.73,1204.85 1866.78,1208.26 1866.31,1210.76C1865.84,1213.26 1865.72,1215.88 1865.6,1216.9L1877.46,1216.9C1877.35,1215.88 1877.23,1213.26 1876.75,1210.76C1876.28,1208.26 1875.34,1204.85 1874.63,1201.89C1873.92,1198.93 1872.73,1196.27 1872.5,1193.02C1872.26,1189.77 1872.97,1186.22 1873.21,1182.37C1873.44,1178.53 1873.92,1173.8 1873.92,1169.95C1873.92,1166.11 1873.53,1163.15 1873.21,1159.31C1872.88,1155.47 1872.2,1153.63 1871.96,1146.89C1871.73,1140.15 1871.82,1123.53 1871.79,1118.86Z" fill="#ff8000" stroke="#000" stroke-width="2.4" stroke-linejoin="round"/>
<path d="M1892.57,1102.54C1892.63,1105.49 1892.8,1112.88 1892.92,1120.28C1893.04,1127.67 1893.4,1140.98 1893.28,1146.89C1893.16,1152.8 1892.69,1152.8 1892.21,1155.76C1891.74,1158.72 1890.97,1161.08 1890.44,1164.63C1889.91,1168.18 1889.32,1173.36 1889.02,1177.05C1888.72,1180.75 1888.61,1183.56 1888.66,1186.81C1888.72,1190.06 1889.32,1192.87 1889.37,1196.57C1889.43,1200.26 1889.14,1205.6 1889.02,1208.99C1888.9,1212.38 1888.72,1215.58 1888.66,1216.9L1900.53,1216.9C1900.47,1215.58 1900.29,1212.38 1900.17,1208.99C1900.06,1205.6 1899.76,1200.26 1899.82,1196.57C1899.88,1192.87 1900.47,1190.06 1900.53,1186.81C1900.59,1183.56 1900.47,1180.75 1900.17,1177.05C1899.88,1173.36 1899.29,1168.18 1898.75,1164.63C1898.22,1161.08 1897.45,1158.72 1896.98,1155.76C1896.51,1152.8 1896.03,1152.8 1895.92,1146.89C1895.8,1140.98 1896.15,1127.67 1896.27,1120.28C1896.39,1112.88 1896.57,1105.49 1896.63,1102.54Z" fill="#ff0000" stroke="#000" stroke-width="2.4" stroke-linejoin="round"/>
<line x1="1889.63" y1="1187.16" x2="1899.56" y2="1187.16" stroke="#000" stroke-width="4"/>
<path d="M1914.21,1178.47C1914.39,1180.01 1915.16,1184.68 1915.28,1187.7C1915.4,1190.71 1915.28,1193.91 1914.92,1196.57C1914.57,1199.23 1913.62,1201.59 1913.15,1203.66C1912.68,1205.73 1912.38,1206.78 1912.08,1208.99C1911.79,1211.19 1911.49,1215.58 1911.37,1216.9L1923.24,1216.9C1923.12,1215.58 1922.82,1211.19 1922.53,1208.99C1922.23,1206.78 1921.94,1205.73 1921.46,1203.66C1920.99,1201.59 1920.05,1199.23 1919.69,1196.57C1919.34,1193.91 1919.22,1190.71 1919.34,1187.7C1919.45,1184.68 1920.22,1180.01 1920.4,1178.47Z" fill="#129cb8" stroke="#000" stroke-width="2.4" stroke-linejoin="round"/>
<line x1="1912.69" y1="1209.34" x2="1921.92" y2="1209.34" stroke="#000" stroke-width="4"/>
<line x1="139" y1="1054.6" x2="185.3" y2="1054.6" stroke="#000" stroke-width="2.3"/>
<line x1="139" y1="1044.3" x2="139" y2="1064.9" stroke="#000" stroke-width="2.3"/>
<line x1="185.3" y1="1044.3" x2="185.3" y2="1064.9" stroke="#000" stroke-width="2.3"/>
<text x="166.2" y="1068.8" font-family='"Liberation Sans", Arial, Helvetica, sans-serif' font-size="30" text-anchor="middle" fill="#000" letter-spacing="3.7" stroke="#000" stroke-width="0.5">**</text>
<line x1="247.3" y1="996.4" x2="295.6" y2="996.4" stroke="#000" stroke-width="2.3"/>
<line x1="247.3" y1="986.1" x2="247.3" y2="1006.7" stroke="#000" stroke-width="2.3"/>
<line x1="295.6" y1="986.1" x2="295.6" y2="1006.7" stroke="#000" stroke-width="2.3"/>
<text x="275.5" y="1010.6" font-family='"Liberation Sans", Arial, Helvetica, sans-serif' font-size="30" text-anchor="middle" fill="#000" letter-spacing="3.7" stroke="#000" stroke-width="0.5">**</text>
<line x1="272.8" y1="952.9" x2="295.8" y2="952.9" stroke="#000" stroke-width="2.3"/>
<line x1="272.8" y1="942.6" x2="272.8" y2="963.2" stroke="#000" stroke-width="2.3"/>
<line x1="295.8" y1="942.6" x2="295.8" y2="963.2" stroke="#000" stroke-width="2.3"/>
<text x="286.15" y="967.1" font-family='"Liberation Sans", Arial, Helvetica, sans-serif' font-size="30" text-anchor="middle" fill="#000" letter-spacing="3.7" stroke="#000" stroke-width="0.5">*</text>
<line x1="354" y1="1045" x2="405" y2="1045" stroke="#000" stroke-width="2.3"/>
<line x1="354" y1="1034.7" x2="354" y2="1055.3" stroke="#000" stroke-width="2.3"/>
<line x1="405" y1="1034.7" x2="405" y2="1055.3" stroke="#000" stroke-width="2.3"/>
<text x="383.75" y="1058.2" font-family='"Liberation Sans", Arial, Helvetica, sans-serif' font-size="30" text-anchor="middle" fill="#000" letter-spacing="3.7" stroke="#000" stroke-width="0.5">****</text>
<line x1="352.2" y1="1080.9" x2="378.1" y2="1080.9" stroke="#000" stroke-width="2.3"/>
<line x1="352.2" y1="1070.6" x2="352.2" y2="1091.2" stroke="#000" stroke-width="2.3"/>
<line x1="378.1" y1="1070.6" x2="378.1" y2="1091.2" stroke="#000" stroke-width="2.3"/>
<text x="367" y="1095.1" font-family='"Liberation Sans", Arial, Helvetica, sans-serif' font-size="30" text-anchor="middle" fill="#000" letter-spacing="3.7" stroke="#000" stroke-width="0.5">*</text>
<line x1="588.1" y1="1062" x2="612.6" y2="1062" stroke="#000" stroke-width="2.3"/>
<line x1="588.1" y1="1051.7" x2="588.1" y2="1072.3" stroke="#000" stroke-width="2.3"/>
<line x1="612.6" y1="1051.7" x2="612.6" y2="1072.3" stroke="#000" stroke-width="2.3"/>
<text x="604.2" y="1076.2" font-family='"Liberation Sans", Arial, Helvetica, sans-serif' font-size="30" text-anchor="middle" fill="#000" letter-spacing="3.7" stroke="#000" stroke-width="0.5">**</text>
<line x1="566" y1="1097.5" x2="612.5" y2="1097.5" stroke="#000" stroke-width="2.3"/>
<line x1="566" y1="1087.2" x2="566" y2="1107.8" stroke="#000" stroke-width="2.3"/>
<line x1="612.5" y1="1087.2" x2="612.5" y2="1107.8" stroke="#000" stroke-width="2.3"/>
<text x="593.1" y="1111.7" font-family='"Liberation Sans", Arial, Helvetica, sans-serif' font-size="30" text-anchor="middle" fill="#000" letter-spacing="3.7" stroke="#000" stroke-width="0.5">***</text>
<line x1="882.9" y1="797.5" x2="950.8" y2="797.5" stroke="#000" stroke-width="2.3"/>
<line x1="882.9" y1="787.2" x2="882.9" y2="807.8" stroke="#000" stroke-width="2.3"/>
<line x1="950.8" y1="787.2" x2="950.8" y2="807.8" stroke="#000" stroke-width="2.3"/>
<text x="921.2" y="811.7" font-family='"Liberation Sans", Arial, Helvetica, sans-serif' font-size="30" text-anchor="middle" fill="#000" letter-spacing="3.7" stroke="#000" stroke-width="0.5">*</text>
<line x1="886.1" y1="835.6" x2="932.7" y2="835.6" stroke="#000" stroke-width="2.3"/>
<line x1="886.1" y1="825.3" x2="886.1" y2="845.9" stroke="#000" stroke-width="2.3"/>
<line x1="932.7" y1="825.3" x2="932.7" y2="845.9" stroke="#000" stroke-width="2.3"/>
<text x="914.15" y="845.5" font-family='"Liberation Sans", Arial, Helvetica, sans-serif' font-size="30" text-anchor="middle" fill="#000" letter-spacing="3.7" stroke="#000" stroke-width="0.5">****</text>
<line x1="908.8" y1="915.8" x2="931.3" y2="915.8" stroke="#000" stroke-width="2.3"/>
<line x1="908.8" y1="905.5" x2="908.8" y2="926.1" stroke="#000" stroke-width="2.3"/>
<line x1="931.3" y1="905.5" x2="931.3" y2="926.1" stroke="#000" stroke-width="2.3"/>
<text x="925.7" y="916.5" font-family='"Liberation Sans", Arial, Helvetica, sans-serif' font-size="30" text-anchor="middle" fill="#000" letter-spacing="3.7" stroke="#000" stroke-width="0.5">***</text>
<line x1="1095.7" y1="1171.7" x2="1121.4" y2="1171.7" stroke="#000" stroke-width="2.3"/>
<line x1="1095.7" y1="1161.4" x2="1095.7" y2="1182" stroke="#000" stroke-width="2.3"/>
<line x1="1121.4" y1="1161.4" x2="1121.4" y2="1182" stroke="#000" stroke-width="2.3"/>
<text x="1110.9" y="1183.7" font-family='"Liberation Sans", Arial, Helvetica, sans-serif' font-size="30" text-anchor="middle" fill="#000" letter-spacing="3.7" stroke="#000" stroke-width="0.5">*</text>
<line x1="1202" y1="963.7" x2="1250.9" y2="963.7" stroke="#000" stroke-width="2.3"/>
<line x1="1202" y1="953.4" x2="1202" y2="974" stroke="#000" stroke-width="2.3"/>
<line x1="1250.9" y1="953.4" x2="1250.9" y2="974" stroke="#000" stroke-width="2.3"/>
<text x="1230" y="978.2" font-family='"Liberation Sans", Arial, Helvetica, sans-serif' font-size="30" text-anchor="middle" fill="#000" letter-spacing="3.7" stroke="#000" stroke-width="0.5">****</text>
<line x1="1204.4" y1="1000.9" x2="1229.9" y2="1000.9" stroke="#000" stroke-width="2.3"/>
<line x1="1204.4" y1="990.6" x2="1204.4" y2="1011.2" stroke="#000" stroke-width="2.3"/>
<line x1="1229.9" y1="990.6" x2="1229.9" y2="1011.2" stroke="#000" stroke-width="2.3"/>
<text x="1222.95" y="1011.2" font-family='"Liberation Sans", Arial, Helvetica, sans-serif' font-size="30" text-anchor="middle" fill="#000" letter-spacing="3.7" stroke="#000" stroke-width="0.5">****</text>
<line x1="1309.2" y1="1065.6" x2="1354.7" y2="1065.6" stroke="#000" stroke-width="2.3"/>
<line x1="1309.2" y1="1055.3" x2="1309.2" y2="1075.9" stroke="#000" stroke-width="2.3"/>
<line x1="1354.7" y1="1055.3" x2="1354.7" y2="1075.9" stroke="#000" stroke-width="2.3"/>
<text x="1334.15" y="1065.5" font-family='"Liberation Sans", Arial, Helvetica, sans-serif' font-size="30" text-anchor="middle" fill="#000" letter-spacing="3.7" stroke="#000" stroke-width="0.5">****</text>
<line x1="1312.4" y1="1104.1" x2="1333.4" y2="1104.1" stroke="#000" stroke-width="2.3"/>
<line x1="1312.4" y1="1093.8" x2="1312.4" y2="1114.4" stroke="#000" stroke-width="2.3"/>
<line x1="1333.4" y1="1093.8" x2="1333.4" y2="1114.4" stroke="#000" stroke-width="2.3"/>
<text x="1328.75" y="1111.3" font-family='"Liberation Sans", Arial, Helvetica, sans-serif' font-size="30" text-anchor="middle" fill="#000" letter-spacing="3.7" stroke="#000" stroke-width="0.5">****</text>
<line x1="1417.4" y1="1012.7" x2="1463.2" y2="1012.7" stroke="#000" stroke-width="2.3"/>
<line x1="1417.4" y1="1002.4" x2="1417.4" y2="1023" stroke="#000" stroke-width="2.3"/>
<line x1="1463.2" y1="1002.4" x2="1463.2" y2="1023" stroke="#000" stroke-width="2.3"/>
<text x="1442.6" y="1022.6" font-family='"Liberation Sans", Arial, Helvetica, sans-serif' font-size="30" text-anchor="middle" fill="#000" letter-spacing="3.7" stroke="#000" stroke-width="0.5">****</text>
<line x1="1416" y1="1065.2" x2="1438.4" y2="1065.2" stroke="#000" stroke-width="2.3"/>
<line x1="1416" y1="1054.9" x2="1416" y2="1075.5" stroke="#000" stroke-width="2.3"/>
<line x1="1438.4" y1="1054.9" x2="1438.4" y2="1075.5" stroke="#000" stroke-width="2.3"/>
<text x="1432.05" y="1065.2" font-family='"Liberation Sans", Arial, Helvetica, sans-serif' font-size="30" text-anchor="middle" fill="#000" letter-spacing="3.7" stroke="#000" stroke-width="0.5">***</text>
<line x1="1465.7" y1="1081.9" x2="1493.7" y2="1081.9" stroke="#000" stroke-width="2.3"/>
<line x1="1465.7" y1="1071.6" x2="1465.7" y2="1092.2" stroke="#000" stroke-width="2.3"/>
<line x1="1493.7" y1="1071.6" x2="1493.7" y2="1092.2" stroke="#000" stroke-width="2.3"/>
<text x="1482.25" y="1095.9" font-family='"Liberation Sans", Arial, Helvetica, sans-serif' font-size="30" text-anchor="middle" fill="#000" letter-spacing="3.7" stroke="#000" stroke-width="0.5">*</text>
<line x1="1438.4" y1="1117.9" x2="1461.1" y2="1117.9" stroke="#000" stroke-width="2.3"/>
<line x1="1438.4" y1="1107.6" x2="1438.4" y2="1128.2" stroke="#000" stroke-width="2.3"/>
<line x1="1461.1" y1="1107.6" x2="1461.1" y2="1128.2" stroke="#000" stroke-width="2.3"/>
<text x="1453.25" y="1124.6" font-family='"Liberation Sans", Arial, Helvetica, sans-serif' font-size="30" text-anchor="middle" fill="#000" letter-spacing="3.7" stroke="#000" stroke-width="0.5">**</text>
<line x1="1755.2" y1="1050.1" x2="1781.8" y2="1050.1" stroke="#000" stroke-width="2.3"/>
<line x1="1755.2" y1="1039.8" x2="1755.2" y2="1060.4" stroke="#000" stroke-width="2.3"/>
<line x1="1781.8" y1="1039.8" x2="1781.8" y2="1060.4" stroke="#000" stroke-width="2.3"/>
<text x="1770.35" y="1062.5" font-family='"Liberation Sans", Arial, Helvetica, sans-serif' font-size="30" text-anchor="middle" fill="#000" letter-spacing="3.7" stroke="#000" stroke-width="0.5">***</text>
<line x1="1733.9" y1="1087.2" x2="1782.9" y2="1087.2" stroke="#000" stroke-width="2.3"/>
<line x1="1733.9" y1="1076.9" x2="1733.9" y2="1097.5" stroke="#000" stroke-width="2.3"/>
<line x1="1782.9" y1="1076.9" x2="1782.9" y2="1097.5" stroke="#000" stroke-width="2.3"/>
<text x="1761.55" y="1101" font-family='"Liberation Sans", Arial, Helvetica, sans-serif' font-size="30" text-anchor="middle" fill="#000" letter-spacing="3.7" stroke="#000" stroke-width="0.5">****</text>
<line x1="125.6" y1="751.5" x2="125.6" y2="1218" stroke="#000" stroke-width="2.3"/>
<line x1="107" y1="1216.9" x2="1934" y2="1216.9" stroke="#000" stroke-width="2.2"/>
<line x1="107" y1="1216.9" x2="125.6" y2="1216.9" stroke="#000" stroke-width="2.3"/>
<text x="101.6" y="1229.5" font-family='"Liberation Sans", Arial, Helvetica, sans-serif' font-size="35" font-weight="bold" text-anchor="end" fill="#000">0.0</text>
<line x1="107" y1="1100.83" x2="125.6" y2="1100.83" stroke="#000" stroke-width="2.3"/>
<text x="101.6" y="1113.42" font-family='"Liberation Sans", Arial, Helvetica, sans-serif' font-size="35" font-weight="bold" text-anchor="end" fill="#000">0.5</text>
<line x1="107" y1="984.75" x2="125.6" y2="984.75" stroke="#000" stroke-width="2.3"/>
<text x="101.6" y="997.35" font-family='"Liberation Sans", Arial, Helvetica, sans-serif' font-size="35" font-weight="bold" text-anchor="end" fill="#000">1.0</text>
<line x1="107" y1="868.68" x2="125.6" y2="868.68" stroke="#000" stroke-width="2.3"/>
<text x="101.6" y="881.28" font-family='"Liberation Sans", Arial, Helvetica, sans-serif' font-size="35" font-weight="bold" text-anchor="end" fill="#000">1.5</text>
<line x1="107" y1="752.6" x2="125.6" y2="752.6" stroke="#000" stroke-width="2.3"/>
<text x="101.6" y="765.2" font-family='"Liberation Sans", Arial, Helvetica, sans-serif' font-size="35" font-weight="bold" text-anchor="end" fill="#000">2.0</text>
<line x1="175.2" y1="1216.9" x2="175.2" y2="1234.9" stroke="#000" stroke-width="2.3"/>
<text x="186.5" y="1266.5" font-family='"Liberation Sans", Arial, Helvetica, sans-serif' font-size="35" font-weight="bold" text-anchor="end" fill="#000" transform="rotate(-45 186.5 1266.5)">HSC</text>
<line x1="281.97" y1="1216.9" x2="281.97" y2="1234.9" stroke="#000" stroke-width="2.3"/>
<text x="293.27" y="1266.5" font-family='"Liberation Sans", Arial, Helvetica, sans-serif' font-size="35" font-weight="bold" text-anchor="end" fill="#000" transform="rotate(-45 293.27 1266.5)">CLP</text>
<line x1="388.74" y1="1216.9" x2="388.74" y2="1234.9" stroke="#000" stroke-width="2.3"/>
<text x="400.04" y="1266.5" font-family='"Liberation Sans", Arial, Helvetica, sans-serif' font-size="35" font-weight="bold" text-anchor="end" fill="#000" transform="rotate(-45 400.04 1266.5)">CMP</text>
<line x1="495.51" y1="1216.9" x2="495.51" y2="1234.9" stroke="#000" stroke-width="2.3"/>
<text x="506.81" y="1266.5" font-family='"Liberation Sans", Arial, Helvetica, sans-serif' font-size="35" font-weight="bold" text-anchor="end" fill="#000" transform="rotate(-45 506.81 1266.5)">GMP</text>
<line x1="602.28" y1="1216.9" x2="602.28" y2="1234.9" stroke="#000" stroke-width="2.3"/>
<text x="613.58" y="1266.5" font-family='"Liberation Sans", Arial, Helvetica, sans-serif' font-size="35" font-weight="bold" text-anchor="end" fill="#000" transform="rotate(-45 613.58 1266.5)">MEP</text>
<line x1="709.05" y1="1216.9" x2="709.05" y2="1234.9" stroke="#000" stroke-width="2.3"/>
<text x="720.35" y="1266.5" font-family='"Liberation Sans", Arial, Helvetica, sans-serif' font-size="35" font-weight="bold" text-anchor="end" fill="#000" transform="rotate(-45 720.35 1266.5)">MPP</text>
<line x1="815.82" y1="1216.9" x2="815.82" y2="1234.9" stroke="#000" stroke-width="2.3"/>
<text x="827.12" y="1266.5" font-family='"Liberation Sans", Arial, Helvetica, sans-serif' font-size="35" font-weight="bold" text-anchor="end" fill="#000" transform="rotate(-45 827.12 1266.5)">MSC</text>
<line x1="922.59" y1="1216.9" x2="922.59" y2="1234.9" stroke="#000" stroke-width="2.3"/>
<text x="933.89" y="1266.5" font-family='"Liberation Sans", Arial, Helvetica, sans-serif' font-size="35" font-weight="bold" text-anchor="end" fill="#000" transform="rotate(-45 933.89 1266.5)">Eosinophils</text>
<line x1="1029.36" y1="1216.9" x2="1029.36" y2="1234.9" stroke="#000" stroke-width="2.3"/>
<text x="1040.66" y="1266.5" font-family='"Liberation Sans", Arial, Helvetica, sans-serif' font-size="35" font-weight="bold" text-anchor="end" fill="#000" transform="rotate(-45 1040.66 1266.5)">Fibroblasts</text>
<line x1="1136.13" y1="1216.9" x2="1136.13" y2="1234.9" stroke="#000" stroke-width="2.3"/>
<text x="1147.43" y="1266.5" font-family='"Liberation Sans", Arial, Helvetica, sans-serif' font-size="35" font-weight="bold" text-anchor="end" fill="#000" transform="rotate(-45 1147.43 1266.5)">Mast cells</text>
<line x1="1242.9" y1="1216.9" x2="1242.9" y2="1234.9" stroke="#000" stroke-width="2.3"/>
<text x="1254.2" y="1266.5" font-family='"Liberation Sans", Arial, Helvetica, sans-serif' font-size="35" font-weight="bold" text-anchor="end" fill="#000" transform="rotate(-45 1254.2 1266.5)">Megakaryocytes</text>
<line x1="1349.67" y1="1216.9" x2="1349.67" y2="1234.9" stroke="#000" stroke-width="2.3"/>
<text x="1360.97" y="1266.5" font-family='"Liberation Sans", Arial, Helvetica, sans-serif' font-size="35" font-weight="bold" text-anchor="end" fill="#000" transform="rotate(-45 1360.97 1266.5)">Monocytes</text>
<line x1="1456.44" y1="1216.9" x2="1456.44" y2="1234.9" stroke="#000" stroke-width="2.3"/>
<text x="1467.74" y="1266.5" font-family='"Liberation Sans", Arial, Helvetica, sans-serif' font-size="35" font-weight="bold" text-anchor="end" fill="#000" transform="rotate(-45 1467.74 1266.5)">Neutrophils</text>
<line x1="1563.21" y1="1216.9" x2="1563.21" y2="1234.9" stroke="#000" stroke-width="2.3"/>
<text x="1574.51" y="1266.5" font-family='"Liberation Sans", Arial, Helvetica, sans-serif' font-size="35" font-weight="bold" text-anchor="end" fill="#000" transform="rotate(-45 1574.51 1266.5)">Osteoblast</text>
<line x1="1669.98" y1="1216.9" x2="1669.98" y2="1234.9" stroke="#000" stroke-width="2.3"/>
<text x="1681.28" y="1266.5" font-family='"Liberation Sans", Arial, Helvetica, sans-serif' font-size="35" font-weight="bold" text-anchor="end" fill="#000" transform="rotate(-45 1681.28 1266.5)">Plasma cells</text>
<line x1="1776.75" y1="1216.9" x2="1776.75" y2="1234.9" stroke="#000" stroke-width="2.3"/>
<text x="1788.05" y="1266.5" font-family='"Liberation Sans", Arial, Helvetica, sans-serif' font-size="35" font-weight="bold" text-anchor="end" fill="#000" transform="rotate(-45 1788.05 1266.5)">Preadipocytes</text>
<line x1="1883.52" y1="1216.9" x2="1883.52" y2="1234.9" stroke="#000" stroke-width="2.3"/>
<text x="1894.82" y="1266.5" font-family='"Liberation Sans", Arial, Helvetica, sans-serif' font-size="35" font-weight="bold" text-anchor="end" fill="#000" transform="rotate(-45 1894.82 1266.5)">Basophils</text>
<text x="30.5" y="983.7" font-family='"Liberation Sans", Arial, Helvetica, sans-serif' font-size="35.1" font-weight="bold" text-anchor="middle" fill="#000" transform="rotate(-90 30.5 983.7)">Enrichment score</text>
<rect x="1551.4" y="720.4" width="47.2" height="18.8" fill="#08c008" stroke="#000" stroke-width="2"/>
<text x="1628" y="740.5" font-family='"Liberation Sans", Arial, Helvetica, sans-serif' font-size="35.3" text-anchor="start" fill="#000">CP</text>
<rect x="1551.4" y="783.1" width="47.2" height="18.8" fill="#ff8000" stroke="#000" stroke-width="2"/>
<text x="1628" y="803.2" font-family='"Liberation Sans", Arial, Helvetica, sans-serif' font-size="35.3" text-anchor="start" fill="#000">AP</text>
<rect x="1551.4" y="845.8" width="47.2" height="18.8" fill="#ff0000" stroke="#000" stroke-width="2"/>
<text x="1628" y="865.9" font-family='"Liberation Sans", Arial, Helvetica, sans-serif' font-size="35.3" text-anchor="start" fill="#000">BC</text>
<rect x="1551.4" y="908.5" width="47.2" height="18.8" fill="#129cb8" stroke="#000" stroke-width="2"/>
<text x="1628" y="928.6" font-family='"Liberation Sans", Arial, Helvetica, sans-serif' font-size="35.3" text-anchor="start" fill="#000">BC remission</text>
</g>
</svg>
</body>
</html>
